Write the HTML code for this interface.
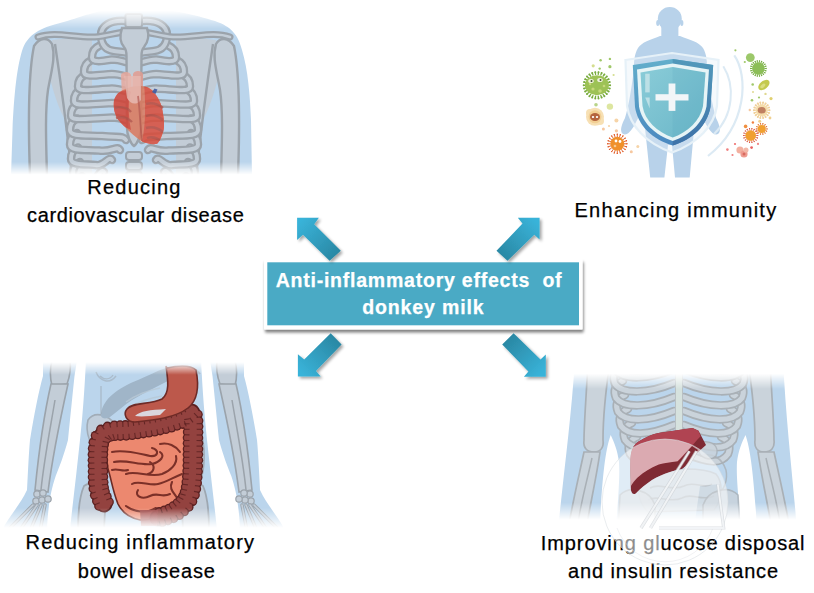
<!DOCTYPE html>
<html><head><meta charset="utf-8">
<style>
html,body{margin:0;padding:0;background:#fff;width:814px;height:593px;overflow:hidden;position:relative;font-family:"Liberation Sans",sans-serif;}
.t{position:absolute;white-space:pre;color:#000;font-size:20px;line-height:20px;-webkit-text-stroke:0.25px #000;}
.b{position:absolute;white-space:pre;color:#fff;font-size:19.5px;font-weight:bold;line-height:20px;-webkit-text-stroke:0.25px #fff;}
svg{position:absolute;left:0;top:0;}
</style></head><body>
<svg width="814" height="593" viewBox="0 0 814 593">
<defs>
<linearGradient id="fadeV1" x1="0" y1="0" x2="0" y2="1">
<stop offset="0" stop-color="#000"/><stop offset="0.06" stop-color="#000"/><stop offset="0.16" stop-color="#fff"/><stop offset="0.9" stop-color="#fff"/><stop offset="0.97" stop-color="#000"/><stop offset="1" stop-color="#000"/>
</linearGradient>
<linearGradient id="fadeImm" x1="0" y1="0" x2="0" y2="1"><stop offset="0" stop-color="#fff"/><stop offset="0.9" stop-color="#fff"/><stop offset="1" stop-color="#000"/></linearGradient>
<mask id="mImm" maskUnits="userSpaceOnUse" x="560" y="0" width="254" height="190"><rect x="560" y="0" width="254" height="180" fill="url(#fadeImm)"/></mask>
<linearGradient id="fadeAbd" x1="0" y1="0" x2="0" y2="1"><stop offset="0" stop-color="#000"/><stop offset="0.04" stop-color="#000"/><stop offset="0.11" stop-color="#fff"/><stop offset="0.85" stop-color="#fff"/><stop offset="0.96" stop-color="#000"/><stop offset="1" stop-color="#000"/></linearGradient>
<mask id="mAbd" maskUnits="userSpaceOnUse" x="0" y="350" width="300" height="185"><rect x="0" y="355" width="300" height="180" fill="url(#fadeAbd)"/></mask>
<linearGradient id="fadeGlu" x1="0" y1="0" x2="0" y2="1"><stop offset="0" stop-color="#000"/><stop offset="0.08" stop-color="#000"/><stop offset="0.17" stop-color="#fff"/><stop offset="0.84" stop-color="#fff"/><stop offset="0.94" stop-color="#000"/><stop offset="1" stop-color="#000"/></linearGradient>
<mask id="mGlu" maskUnits="userSpaceOnUse" x="540" y="355" width="274" height="180"><rect x="540" y="360" width="274" height="170" fill="url(#fadeGlu)"/></mask>
<mask id="mChest" maskUnits="userSpaceOnUse" x="0" y="0" width="280" height="190"><rect x="0" y="0" width="280" height="180" fill="url(#fadeV1)"/></mask>

<linearGradient id="ag" x1="0" y1="0" x2="1" y2="1">
<stop offset="0" stop-color="#3AB4DA"/><stop offset="1" stop-color="#2886A2"/>
</linearGradient>
<filter id="sh2" x="-10%" y="-20%" width="120%" height="150%"><feGaussianBlur in="SourceAlpha" stdDeviation="1.6"/><feOffset dx="1" dy="2.6"/><feComponentTransfer><feFuncA type="linear" slope="0.5"/></feComponentTransfer><feMerge><feMergeNode/><feMergeNode in="SourceGraphic"/></feMerge></filter>
<filter id="sh" x="-30%" y="-30%" width="160%" height="160%">
<feGaussianBlur in="SourceAlpha" stdDeviation="1.7"/><feOffset dx="1.8" dy="2.4"/>
<feComponentTransfer><feFuncA type="linear" slope="0.36"/></feComponentTransfer>
<feMerge><feMergeNode/><feMergeNode in="SourceGraphic"/></feMerge>
</filter>
</defs>
<g mask="url(#mChest)"><path d="M11,176 L12.5,130 C14,95 17,65 23,48 C29,34 40,28 60,23 C80,18 95,9 134,7 C173,9 195,15 215,21 C232,27 238,35 242,50 C248,70 250,95 251,120 L252,176 Z" fill="#BBD5EC"/><path d="M52,40 C60,80 66,130 72,176 L92,176 L92,36 Z" fill="#C3CDD7"/><path d="M50,40 L56,44 C60,70 62,95 64,118 C55,100 50,80 46,60 Z" fill="#C3CDD7"/><path d="M55,44 C62,90 67,130 72,176" fill="none" stroke="#9BA3AB" stroke-width="2.4"/><path d="M34,46 C29,70 28,120 30,176 L47,176 C46,140 45,110 48,90 C51,72 56,58 52,44 C48,37 40,37 34,46 Z" fill="#C3CDD7" stroke="#9BA3AB" stroke-width="2.4"/><path d="M216,40 C208,80 202,130 196,176 L176,176 L176,36 Z" fill="#C3CDD7"/><path d="M218,40 L212,44 C208,70 206,95 204,118 C213,100 218,80 222,60 Z" fill="#C3CDD7"/><path d="M213,44 C206,90 201,130 196,176" fill="none" stroke="#9BA3AB" stroke-width="2.4"/><path d="M234,46 C239,70 240,120 238,176 L221,176 C222,140 223,110 220,90 C217,72 212,58 216,44 C220,37 228,37 234,46 Z" fill="#C3CDD7" stroke="#9BA3AB" stroke-width="2.4"/><path d="M100,20 L168,20 L174,176 L94,176 Z" fill="#BBD5EC"/><path d="M82,176.5 C76,179 75,184 75,188 C75,195 91,193 89.5,194 C88,196 93,179 96,184" fill="none" stroke="#9BA3AB" stroke-width="8.5" stroke-linecap="round" stroke-linejoin="round"/><path d="M82,176.5 C76,179 75,184 75,188 C75,195 91,193 89.5,194 C88,196 93,179 96,184" fill="none" stroke="#C3CDD7" stroke-width="3.9000000000000004" stroke-linecap="round" stroke-linejoin="round"/><path d="M186,176.5 C192,179 193,184 193,188 C193,195 177,193 178.5,194 C180,196 175,179 172,184" fill="none" stroke="#9BA3AB" stroke-width="8.5" stroke-linecap="round" stroke-linejoin="round"/><path d="M186,176.5 C192,179 193,184 193,188 C193,195 177,193 178.5,194 C180,196 175,179 172,184" fill="none" stroke="#C3CDD7" stroke-width="3.9000000000000004" stroke-linecap="round" stroke-linejoin="round"/><path d="M80,162.0 C74,164.5 73,169.5 73,173.5 C73,180.5 89,178.5 92.5,179.5 C96,181.5 101,167 104,172" fill="none" stroke="#9BA3AB" stroke-width="8.5" stroke-linecap="round" stroke-linejoin="round"/><path d="M80,162.0 C74,164.5 73,169.5 73,173.5 C73,180.5 89,178.5 92.5,179.5 C96,181.5 101,167 104,172" fill="none" stroke="#C3CDD7" stroke-width="3.9000000000000004" stroke-linecap="round" stroke-linejoin="round"/><path d="M188,162.0 C194,164.5 195,169.5 195,173.5 C195,180.5 179,178.5 175.5,179.5 C172,181.5 167,167 164,172" fill="none" stroke="#9BA3AB" stroke-width="8.5" stroke-linecap="round" stroke-linejoin="round"/><path d="M188,162.0 C194,164.5 195,169.5 195,173.5 C195,180.5 179,178.5 175.5,179.5 C172,181.5 167,167 164,172" fill="none" stroke="#C3CDD7" stroke-width="3.9000000000000004" stroke-linecap="round" stroke-linejoin="round"/><path d="M78,147.5 C72,150 71,155 71,159 C71,166 87,164 95.5,165 C104,167 109,155 112,160" fill="none" stroke="#9BA3AB" stroke-width="8.5" stroke-linecap="round" stroke-linejoin="round"/><path d="M78,147.5 C72,150 71,155 71,159 C71,166 87,164 95.5,165 C104,167 109,155 112,160" fill="none" stroke="#C3CDD7" stroke-width="3.9000000000000004" stroke-linecap="round" stroke-linejoin="round"/><path d="M190,147.5 C196,150 197,155 197,159 C197,166 181,164 172.5,165 C164,167 159,155 156,160" fill="none" stroke="#9BA3AB" stroke-width="8.5" stroke-linecap="round" stroke-linejoin="round"/><path d="M190,147.5 C196,150 197,155 197,159 C197,166 181,164 172.5,165 C164,167 159,155 156,160" fill="none" stroke="#C3CDD7" stroke-width="3.9000000000000004" stroke-linecap="round" stroke-linejoin="round"/><path d="M77,133.0 C71,135.5 70,140.5 70,144.5 C70,151.5 86,149.5 99.0,150.5 C112,152.5 117,145 120,150" fill="none" stroke="#9BA3AB" stroke-width="8.5" stroke-linecap="round" stroke-linejoin="round"/><path d="M77,133.0 C71,135.5 70,140.5 70,144.5 C70,151.5 86,149.5 99.0,150.5 C112,152.5 117,145 120,150" fill="none" stroke="#C3CDD7" stroke-width="3.9000000000000004" stroke-linecap="round" stroke-linejoin="round"/><path d="M191,133.0 C197,135.5 198,140.5 198,144.5 C198,151.5 182,149.5 169.0,150.5 C156,152.5 151,145 148,150" fill="none" stroke="#9BA3AB" stroke-width="8.5" stroke-linecap="round" stroke-linejoin="round"/><path d="M191,133.0 C197,135.5 198,140.5 198,144.5 C198,151.5 182,149.5 169.0,150.5 C156,152.5 151,145 148,150" fill="none" stroke="#C3CDD7" stroke-width="3.9000000000000004" stroke-linecap="round" stroke-linejoin="round"/><path d="M77,118.5 C71,121 70,126 70,130 C70,137 86,135 102.0,136 C118,138 123,135 126,140" fill="none" stroke="#9BA3AB" stroke-width="8.5" stroke-linecap="round" stroke-linejoin="round"/><path d="M77,118.5 C71,121 70,126 70,130 C70,137 86,135 102.0,136 C118,138 123,135 126,140" fill="none" stroke="#C3CDD7" stroke-width="3.9000000000000004" stroke-linecap="round" stroke-linejoin="round"/><path d="M191,118.5 C197,121 198,126 198,130 C198,137 182,135 166.0,136 C150,138 145,135 142,140" fill="none" stroke="#9BA3AB" stroke-width="8.5" stroke-linecap="round" stroke-linejoin="round"/><path d="M191,118.5 C197,121 198,126 198,130 C198,137 182,135 166.0,136 C150,138 145,135 142,140" fill="none" stroke="#C3CDD7" stroke-width="3.9000000000000004" stroke-linecap="round" stroke-linejoin="round"/><path d="M78,104.0 C72,106.5 71,111.5 71,115.5 C71,121.5 85,118.5 112,117.5 C118,117.5 122,119.0 127,120.5" fill="none" stroke="#9BA3AB" stroke-width="8.5" stroke-linecap="round" stroke-linejoin="round"/><path d="M78,104.0 C72,106.5 71,111.5 71,115.5 C71,121.5 85,118.5 112,117.5 C118,117.5 122,119.0 127,120.5" fill="none" stroke="#C3CDD7" stroke-width="3.9000000000000004" stroke-linecap="round" stroke-linejoin="round"/><path d="M190,104.0 C196,106.5 197,111.5 197,115.5 C197,121.5 183,118.5 156,117.5 C150,117.5 146,119.0 141,120.5" fill="none" stroke="#9BA3AB" stroke-width="8.5" stroke-linecap="round" stroke-linejoin="round"/><path d="M190,104.0 C196,106.5 197,111.5 197,115.5 C197,121.5 183,118.5 156,117.5 C150,117.5 146,119.0 141,120.5" fill="none" stroke="#C3CDD7" stroke-width="3.9000000000000004" stroke-linecap="round" stroke-linejoin="round"/><path d="M81,89.5 C75,92 74,97 74,101 C74,107 88,104 112,103 C118,103 122,104.5 127,106" fill="none" stroke="#9BA3AB" stroke-width="8.5" stroke-linecap="round" stroke-linejoin="round"/><path d="M81,89.5 C75,92 74,97 74,101 C74,107 88,104 112,103 C118,103 122,104.5 127,106" fill="none" stroke="#C3CDD7" stroke-width="3.9000000000000004" stroke-linecap="round" stroke-linejoin="round"/><path d="M187,89.5 C193,92 194,97 194,101 C194,107 180,104 156,103 C150,103 146,104.5 141,106" fill="none" stroke="#9BA3AB" stroke-width="8.5" stroke-linecap="round" stroke-linejoin="round"/><path d="M187,89.5 C193,92 194,97 194,101 C194,107 180,104 156,103 C150,103 146,104.5 141,106" fill="none" stroke="#C3CDD7" stroke-width="3.9000000000000004" stroke-linecap="round" stroke-linejoin="round"/><path d="M85,75.0 C79,77.5 78,82.5 78,86.5 C78,92.5 92,89.5 112,88.5 C118,88.5 122,90.0 127,91.5" fill="none" stroke="#9BA3AB" stroke-width="8.5" stroke-linecap="round" stroke-linejoin="round"/><path d="M85,75.0 C79,77.5 78,82.5 78,86.5 C78,92.5 92,89.5 112,88.5 C118,88.5 122,90.0 127,91.5" fill="none" stroke="#C3CDD7" stroke-width="3.9000000000000004" stroke-linecap="round" stroke-linejoin="round"/><path d="M183,75.0 C189,77.5 190,82.5 190,86.5 C190,92.5 176,89.5 156,88.5 C150,88.5 146,90.0 141,91.5" fill="none" stroke="#9BA3AB" stroke-width="8.5" stroke-linecap="round" stroke-linejoin="round"/><path d="M183,75.0 C189,77.5 190,82.5 190,86.5 C190,92.5 176,89.5 156,88.5 C150,88.5 146,90.0 141,91.5" fill="none" stroke="#C3CDD7" stroke-width="3.9000000000000004" stroke-linecap="round" stroke-linejoin="round"/><path d="M91,60.5 C85,63 84,68 84,72 C84,78 98,75 112,74 C118,74 122,75.5 127,77" fill="none" stroke="#9BA3AB" stroke-width="8.5" stroke-linecap="round" stroke-linejoin="round"/><path d="M91,60.5 C85,63 84,68 84,72 C84,78 98,75 112,74 C118,74 122,75.5 127,77" fill="none" stroke="#C3CDD7" stroke-width="3.9000000000000004" stroke-linecap="round" stroke-linejoin="round"/><path d="M177,60.5 C183,63 184,68 184,72 C184,78 170,75 156,74 C150,74 146,75.5 141,77" fill="none" stroke="#9BA3AB" stroke-width="8.5" stroke-linecap="round" stroke-linejoin="round"/><path d="M177,60.5 C183,63 184,68 184,72 C184,78 170,75 156,74 C150,74 146,75.5 141,77" fill="none" stroke="#C3CDD7" stroke-width="3.9000000000000004" stroke-linecap="round" stroke-linejoin="round"/><path d="M99,46.0 C93,48.5 92,53.5 92,57.5 C92,63.5 106,60.5 112,59.5 C118,59.5 122,61.0 127,62.5" fill="none" stroke="#9BA3AB" stroke-width="8.5" stroke-linecap="round" stroke-linejoin="round"/><path d="M99,46.0 C93,48.5 92,53.5 92,57.5 C92,63.5 106,60.5 112,59.5 C118,59.5 122,61.0 127,62.5" fill="none" stroke="#C3CDD7" stroke-width="3.9000000000000004" stroke-linecap="round" stroke-linejoin="round"/><path d="M169,46.0 C175,48.5 176,53.5 176,57.5 C176,63.5 162,60.5 156,59.5 C150,59.5 146,61.0 141,62.5" fill="none" stroke="#9BA3AB" stroke-width="8.5" stroke-linecap="round" stroke-linejoin="round"/><path d="M169,46.0 C175,48.5 176,53.5 176,57.5 C176,63.5 162,60.5 156,59.5 C150,59.5 146,61.0 141,62.5" fill="none" stroke="#C3CDD7" stroke-width="3.9000000000000004" stroke-linecap="round" stroke-linejoin="round"/><path d="M126,21 C110,19.5 101,26 101,35 C101,45 106,50 114,51 C118,51.5 121,52 126,52.5" fill="none" stroke="#9BA3AB" stroke-width="8.5" stroke-linecap="round" stroke-linejoin="round"/><path d="M126,21 C110,19.5 101,26 101,35 C101,45 106,50 114,51 C118,51.5 121,52 126,52.5" fill="none" stroke="#C3CDD7" stroke-width="3.9000000000000004" stroke-linecap="round" stroke-linejoin="round"/><path d="M142,21 C158,19.5 167,26 167,35 C167,45 162,50 154,51 C150,51.5 147,52 142,52.5" fill="none" stroke="#9BA3AB" stroke-width="8.5" stroke-linecap="round" stroke-linejoin="round"/><path d="M142,21 C158,19.5 167,26 167,35 C167,45 162,50 154,51 C150,51.5 147,52 142,52.5" fill="none" stroke="#C3CDD7" stroke-width="3.9000000000000004" stroke-linecap="round" stroke-linejoin="round"/><path d="M38,37 C55,31 75,38 95,37 C108,36 118,32 127,32" fill="none" stroke="#9BA3AB" stroke-width="7" stroke-linecap="round" stroke-linejoin="round"/><path d="M38,37 C55,31 75,38 95,37 C108,36 118,32 127,32" fill="none" stroke="#C3CDD7" stroke-width="2.5999999999999996" stroke-linecap="round" stroke-linejoin="round"/><path d="M230,37 C213,31 193,38 173,37 C160,36 150,32 141,32" fill="none" stroke="#9BA3AB" stroke-width="7" stroke-linecap="round" stroke-linejoin="round"/><path d="M230,37 C213,31 193,38 173,37 C160,36 150,32 141,32" fill="none" stroke="#C3CDD7" stroke-width="2.5999999999999996" stroke-linecap="round" stroke-linejoin="round"/><rect x="125.4" y="14" width="16.6" height="13" rx="2" fill="#C3CDD7" stroke="#9BA3AB" stroke-width="2"/><path d="M122,28 L147,28 C149,34 149,41 144,47 C142,49 141.5,52 141.5,56 L141,128 C141,136 137,144 134,146 C131,144 127,136 127,128 L126.5,56 C126.5,52 126,49 124,47 C119,41 120,34 122,28 Z" fill="#C3CDD7" stroke="#9BA3AB" stroke-width="2.4"/><rect x="126" y="152" width="16" height="8" rx="3" fill="#C3CDD7" stroke="#9BA3AB" stroke-width="2"/><rect x="126" y="162" width="16" height="8" rx="3" fill="#C3CDD7" stroke="#9BA3AB" stroke-width="2"/><rect x="126" y="172" width="16" height="8" rx="3" fill="#C3CDD7" stroke="#9BA3AB" stroke-width="2"/><g opacity="0.84"><path d="M121,75 C122,71 130,71 131,75 L131,92 L122,96 Z" fill="#E8A89C"/><path d="M133,74 C134,70 142,70 143,74 L143,92 L133,94 Z" fill="#E29C90"/><path d="M118.3,93 C125,88 135,85 144.3,86.5 C148,87 150,88.5 152.5,90.6 C158,97 162,104 163.1,114.2 C164.5,122 164,128 163.7,129.6 C162,136 160,141 157.2,143.8 C152,145 146,143 141.9,141.4 C135,137 130,132 125.4,127.2 C120,122 117,119 115.9,115.4 C113.5,110 113.5,104 114.1,100 C115,97 116.5,95 118.3,93 Z" fill="#DC785C"/><path d="M144.3,86.5 C148,87 150,88.5 152.5,90.6 C158,97 162,104 163.1,114.2 C164.5,122 164,128 163.7,129.6 C162,136 160,141 157.2,143.8 C152,145 146,143 141.9,141.4 C145,130 146,110 144.3,86.5 Z" fill="#DA4A38"/><path d="M118.3,93 C122,90 128,89 131,92 C128,100 128,115 131,130 C129,129 127,128 125.4,127.2 C120,122 117,119 115.9,115.4 C113.5,110 113.5,104 114.1,100 C115,97 116.5,95 118.3,93 Z" fill="#D24234"/><path d="M124,76 L141,76 L141,100 C136,106 130,104 127,98 Z" fill="#EDB5AA" opacity="0.85"/><path d="M115,108 C122,106 128,108 131,112 M116,118 C123,116 128,118 132,122 M146,104 C152,102 158,104 163,108 M146,116 C152,114 158,116 163,120 M146,128 C152,126 158,128 163,132 M147,138 C152,136 156,138 160,140" fill="none" stroke="#B0453A" stroke-width="2.4" opacity="0.8"/><path d="M138,96 C140,110 140,125 142,141" fill="none" stroke="#B0453A" stroke-width="1.8" opacity="0.7"/><path d="M152,92 L154.5,88.5 L157.5,89.5 L155.5,94 Z" fill="#3A56A0"/></g></g><g><ellipse cx="669.8" cy="18.8" rx="12" ry="11.8" fill="#B8D2EA"/><ellipse cx="657.8" cy="23" rx="1.6" ry="3" fill="#B8D2EA"/><ellipse cx="681.8" cy="23" rx="1.6" ry="3" fill="#B8D2EA"/><path d="M661.3,24 L678.4,24 L678.4,38 L661.3,38 Z" fill="#B8D2EA"/><path d="M660,36 C650,40 642,42 638,48 C634,55 634,62 634,68 C632,85 629,105 625,118 C622,124 619,131 623,134 C627,136 631,131 634,126 C638,118 643,110 645,100 L645.2,130 L650.2,177.5 L664.4,177.5 L668,145 L672,145 L675,177.5 L689.7,177.5 L694,130 L696,100 C698,110 703,118 707,126 C710,131 714,136 718,134 C722,131 719,124 716,118 C712,105 709,85 707,68 C707,62 707,55 703,48 C699,42 690,40 680,36 Z" fill="#B8D2EA"/><path d="M625.5,60 L672,53 L718.5,60 L717,106 C714,126 698,143 672,152.5 C646,143 630,126 627,106 Z" fill="#E3EEF6" fill-opacity="0.35" stroke="#E6F1F8" stroke-width="2.2"/><path d="M734.3,55.4 C748,75 748,125 708,156" fill="none" stroke="#DCEAF4" stroke-width="2.2"/><path d="M723.3,66.3 C735,85 734,115 714,134" fill="none" stroke="#DCEAF4" stroke-width="2"/><defs><linearGradient id="sbl" x1="0" y1="0" x2="0" y2="1"><stop offset="0" stop-color="#62AECB"/><stop offset="1" stop-color="#4A88C0"/></linearGradient><linearGradient id="sbr" x1="0" y1="0" x2="0" y2="1"><stop offset="0" stop-color="#5299BB"/><stop offset="1" stop-color="#3E72A8"/></linearGradient><linearGradient id="shg" x1="0" y1="0" x2="1" y2="1"><stop offset="0" stop-color="#8ACCD8"/><stop offset="1" stop-color="#6AB6C8"/></linearGradient></defs><path d="M632.8,65 L672.7,59 L713.2,65 L710.5,107 C707,126 693,139 672.7,145.5 C652,139 638,126 635,107 Z" fill="url(#sbl)"/><path d="M672.7,59 L713.2,65 L710.5,107 C707,126 693,139 672.7,145.5 Z" fill="url(#sbr)"/><path d="M637,69.5 L672.7,63.5 L709,69.5 L706.5,106.5 C703,123 690,135 672.7,141 C655,135 642,123 639,106.5 Z" fill="#E6F4F6"/><path d="M640.5,72.5 L672.7,67 L705.5,72.5 L703,106 C700,121 688,132 672.7,137.5 C657,132 645,121 642.5,106 Z" fill="url(#shg)"/><path d="M672.7,67 L705.5,72.5 L703,106 C700,121 688,132 672.7,137.5 Z" fill="#4FA3BD" opacity="0.15"/><rect x="645.2" y="73.7" width="4.5" height="18.7" fill="#C2E2E8" opacity="0.9"/><path d="M645.2,97.5 L649.7,97.5 L649.7,108.6 Z" fill="#C2E2E8" opacity="0.9"/><rect x="655.5" y="94.2" width="33" height="6.3" fill="#F2F6F8"/><rect x="668.6" y="83.5" width="6.8" height="27.4" fill="#F2F6F8"/><line x1="607.9" y1="85.3" x2="610.1" y2="85.3" stroke="#79AC40" stroke-width="1.3" stroke-linecap="round"/><circle cx="610.1" cy="85.3" r="1.0" fill="#79AC40"/><line x1="607.6" y1="87.9" x2="609.7" y2="88.5" stroke="#79AC40" stroke-width="1.3" stroke-linecap="round"/><circle cx="609.7" cy="88.5" r="1.0" fill="#79AC40"/><line x1="606.6" y1="90.4" x2="608.6" y2="91.4" stroke="#79AC40" stroke-width="1.3" stroke-linecap="round"/><circle cx="608.6" cy="91.4" r="1.0" fill="#79AC40"/><line x1="605.1" y1="92.6" x2="606.8" y2="94.1" stroke="#79AC40" stroke-width="1.3" stroke-linecap="round"/><circle cx="606.8" cy="94.1" r="1.0" fill="#79AC40"/><line x1="603.1" y1="94.4" x2="604.4" y2="96.2" stroke="#79AC40" stroke-width="1.3" stroke-linecap="round"/><circle cx="604.4" cy="96.2" r="1.0" fill="#79AC40"/><line x1="600.8" y1="95.6" x2="601.6" y2="97.6" stroke="#79AC40" stroke-width="1.3" stroke-linecap="round"/><circle cx="601.6" cy="97.6" r="1.0" fill="#79AC40"/><line x1="598.2" y1="96.2" x2="598.5" y2="98.4" stroke="#79AC40" stroke-width="1.3" stroke-linecap="round"/><circle cx="598.5" cy="98.4" r="1.0" fill="#79AC40"/><line x1="595.6" y1="96.2" x2="595.3" y2="98.4" stroke="#79AC40" stroke-width="1.3" stroke-linecap="round"/><circle cx="595.3" cy="98.4" r="1.0" fill="#79AC40"/><line x1="593.0" y1="95.6" x2="592.2" y2="97.6" stroke="#79AC40" stroke-width="1.3" stroke-linecap="round"/><circle cx="592.2" cy="97.6" r="1.0" fill="#79AC40"/><line x1="590.7" y1="94.4" x2="589.4" y2="96.2" stroke="#79AC40" stroke-width="1.3" stroke-linecap="round"/><circle cx="589.4" cy="96.2" r="1.0" fill="#79AC40"/><line x1="588.7" y1="92.6" x2="587.0" y2="94.1" stroke="#79AC40" stroke-width="1.3" stroke-linecap="round"/><circle cx="587.0" cy="94.1" r="1.0" fill="#79AC40"/><line x1="587.2" y1="90.4" x2="585.2" y2="91.4" stroke="#79AC40" stroke-width="1.3" stroke-linecap="round"/><circle cx="585.2" cy="91.4" r="1.0" fill="#79AC40"/><line x1="586.2" y1="87.9" x2="584.1" y2="88.5" stroke="#79AC40" stroke-width="1.3" stroke-linecap="round"/><circle cx="584.1" cy="88.5" r="1.0" fill="#79AC40"/><line x1="585.9" y1="85.3" x2="583.7" y2="85.3" stroke="#79AC40" stroke-width="1.3" stroke-linecap="round"/><circle cx="583.7" cy="85.3" r="1.0" fill="#79AC40"/><line x1="586.2" y1="82.7" x2="584.1" y2="82.1" stroke="#79AC40" stroke-width="1.3" stroke-linecap="round"/><circle cx="584.1" cy="82.1" r="1.0" fill="#79AC40"/><line x1="587.2" y1="80.2" x2="585.2" y2="79.2" stroke="#79AC40" stroke-width="1.3" stroke-linecap="round"/><circle cx="585.2" cy="79.2" r="1.0" fill="#79AC40"/><line x1="588.7" y1="78.0" x2="587.0" y2="76.5" stroke="#79AC40" stroke-width="1.3" stroke-linecap="round"/><circle cx="587.0" cy="76.5" r="1.0" fill="#79AC40"/><line x1="590.7" y1="76.2" x2="589.4" y2="74.4" stroke="#79AC40" stroke-width="1.3" stroke-linecap="round"/><circle cx="589.4" cy="74.4" r="1.0" fill="#79AC40"/><line x1="593.0" y1="75.0" x2="592.2" y2="73.0" stroke="#79AC40" stroke-width="1.3" stroke-linecap="round"/><circle cx="592.2" cy="73.0" r="1.0" fill="#79AC40"/><line x1="595.6" y1="74.4" x2="595.3" y2="72.2" stroke="#79AC40" stroke-width="1.3" stroke-linecap="round"/><circle cx="595.3" cy="72.2" r="1.0" fill="#79AC40"/><line x1="598.2" y1="74.4" x2="598.5" y2="72.2" stroke="#79AC40" stroke-width="1.3" stroke-linecap="round"/><circle cx="598.5" cy="72.2" r="1.0" fill="#79AC40"/><line x1="600.8" y1="75.0" x2="601.6" y2="73.0" stroke="#79AC40" stroke-width="1.3" stroke-linecap="round"/><circle cx="601.6" cy="73.0" r="1.0" fill="#79AC40"/><line x1="603.1" y1="76.2" x2="604.4" y2="74.4" stroke="#79AC40" stroke-width="1.3" stroke-linecap="round"/><circle cx="604.4" cy="74.4" r="1.0" fill="#79AC40"/><line x1="605.1" y1="78.0" x2="606.8" y2="76.5" stroke="#79AC40" stroke-width="1.3" stroke-linecap="round"/><circle cx="606.8" cy="76.5" r="1.0" fill="#79AC40"/><line x1="606.6" y1="80.2" x2="608.6" y2="79.2" stroke="#79AC40" stroke-width="1.3" stroke-linecap="round"/><circle cx="608.6" cy="79.2" r="1.0" fill="#79AC40"/><line x1="607.6" y1="82.7" x2="609.7" y2="82.1" stroke="#79AC40" stroke-width="1.3" stroke-linecap="round"/><circle cx="609.7" cy="82.1" r="1.0" fill="#79AC40"/><ellipse cx="596.9" cy="85.3" rx="12" ry="10" fill="#9DC256"/><circle cx="593" cy="89" r="1.6" fill="#C5D77A"/><circle cx="600" cy="91" r="1.8" fill="#C5D77A"/><circle cx="604" cy="86" r="1.3" fill="#C5D77A"/><circle cx="590" cy="84" r="1.2" fill="#C5D77A"/><ellipse cx="591" cy="81" rx="2.8" ry="2" fill="#EEF2DC"/><ellipse cx="600" cy="80" rx="2.8" ry="2" fill="#EEF2DC"/><circle cx="591.5" cy="81" r="1" fill="#4A5A30"/><circle cx="600.5" cy="80" r="1" fill="#4A5A30"/><circle cx="595" cy="116.8" r="9" fill="#F7E0B4"/><circle cx="590" cy="113" r="4" fill="#F7E0B4"/><circle cx="600" cy="121" r="4" fill="#F7E0B4"/><circle cx="595" cy="116.8" r="6.5" fill="#F2CF94"/><ellipse cx="595" cy="117" rx="5" ry="4" fill="#B4643E"/><ellipse cx="593" cy="117" rx="1.2" ry="0.9" fill="#fff"/><ellipse cx="597" cy="117" rx="1.2" ry="0.9" fill="#fff"/><line x1="624.3" y1="143.8" x2="626.9" y2="143.8" stroke="#E05A26" stroke-width="0.9" stroke-linecap="round"/><circle cx="626.9" cy="143.8" r="0.7" fill="#E05A26"/><line x1="624.0" y1="146.0" x2="626.4" y2="146.8" stroke="#E05A26" stroke-width="0.9" stroke-linecap="round"/><circle cx="626.4" cy="146.8" r="0.7" fill="#E05A26"/><line x1="623.0" y1="147.9" x2="625.1" y2="149.4" stroke="#E05A26" stroke-width="0.9" stroke-linecap="round"/><circle cx="625.1" cy="149.4" r="0.7" fill="#E05A26"/><line x1="621.4" y1="149.5" x2="622.9" y2="151.6" stroke="#E05A26" stroke-width="0.9" stroke-linecap="round"/><circle cx="622.9" cy="151.6" r="0.7" fill="#E05A26"/><line x1="619.5" y1="150.5" x2="620.3" y2="152.9" stroke="#E05A26" stroke-width="0.9" stroke-linecap="round"/><circle cx="620.3" cy="152.9" r="0.7" fill="#E05A26"/><line x1="617.3" y1="150.8" x2="617.3" y2="153.4" stroke="#E05A26" stroke-width="0.9" stroke-linecap="round"/><circle cx="617.3" cy="153.4" r="0.7" fill="#E05A26"/><line x1="615.1" y1="150.5" x2="614.3" y2="152.9" stroke="#E05A26" stroke-width="0.9" stroke-linecap="round"/><circle cx="614.3" cy="152.9" r="0.7" fill="#E05A26"/><line x1="613.2" y1="149.5" x2="611.7" y2="151.6" stroke="#E05A26" stroke-width="0.9" stroke-linecap="round"/><circle cx="611.7" cy="151.6" r="0.7" fill="#E05A26"/><line x1="611.6" y1="147.9" x2="609.5" y2="149.4" stroke="#E05A26" stroke-width="0.9" stroke-linecap="round"/><circle cx="609.5" cy="149.4" r="0.7" fill="#E05A26"/><line x1="610.6" y1="146.0" x2="608.2" y2="146.8" stroke="#E05A26" stroke-width="0.9" stroke-linecap="round"/><circle cx="608.2" cy="146.8" r="0.7" fill="#E05A26"/><line x1="610.3" y1="143.8" x2="607.7" y2="143.8" stroke="#E05A26" stroke-width="0.9" stroke-linecap="round"/><circle cx="607.7" cy="143.8" r="0.7" fill="#E05A26"/><line x1="610.6" y1="141.6" x2="608.2" y2="140.8" stroke="#E05A26" stroke-width="0.9" stroke-linecap="round"/><circle cx="608.2" cy="140.8" r="0.7" fill="#E05A26"/><line x1="611.6" y1="139.7" x2="609.5" y2="138.2" stroke="#E05A26" stroke-width="0.9" stroke-linecap="round"/><circle cx="609.5" cy="138.2" r="0.7" fill="#E05A26"/><line x1="613.2" y1="138.1" x2="611.7" y2="136.0" stroke="#E05A26" stroke-width="0.9" stroke-linecap="round"/><circle cx="611.7" cy="136.0" r="0.7" fill="#E05A26"/><line x1="615.1" y1="137.1" x2="614.3" y2="134.7" stroke="#E05A26" stroke-width="0.9" stroke-linecap="round"/><circle cx="614.3" cy="134.7" r="0.7" fill="#E05A26"/><line x1="617.3" y1="136.8" x2="617.3" y2="134.2" stroke="#E05A26" stroke-width="0.9" stroke-linecap="round"/><circle cx="617.3" cy="134.2" r="0.7" fill="#E05A26"/><line x1="619.5" y1="137.1" x2="620.3" y2="134.7" stroke="#E05A26" stroke-width="0.9" stroke-linecap="round"/><circle cx="620.3" cy="134.7" r="0.7" fill="#E05A26"/><line x1="621.4" y1="138.1" x2="622.9" y2="136.0" stroke="#E05A26" stroke-width="0.9" stroke-linecap="round"/><circle cx="622.9" cy="136.0" r="0.7" fill="#E05A26"/><line x1="623.0" y1="139.7" x2="625.1" y2="138.2" stroke="#E05A26" stroke-width="0.9" stroke-linecap="round"/><circle cx="625.1" cy="138.2" r="0.7" fill="#E05A26"/><line x1="624.0" y1="141.6" x2="626.4" y2="140.8" stroke="#E05A26" stroke-width="0.9" stroke-linecap="round"/><circle cx="626.4" cy="140.8" r="0.7" fill="#E05A26"/><circle cx="617.3" cy="143.8" r="7" fill="#F0902A"/><circle cx="616" cy="141" r="1.4" fill="#fff"/><circle cx="620" cy="141.5" r="1.4" fill="#fff"/><circle cx="615" cy="146" r="1.3" fill="#F5C890"/><circle cx="600.6" cy="60.2" r="1.2" fill="#A0C86A"/><circle cx="609.9" cy="58.9" r="1.2" fill="#A0C86A"/><circle cx="593.2" cy="65.8" r="1.6" fill="#D5DE90"/><circle cx="599.7" cy="68.6" r="1.2" fill="#A0C86A"/><circle cx="609.9" cy="66.7" r="1.6" fill="#A0C86A"/><circle cx="613.6" cy="75" r="1.1" fill="#D5DE90"/><circle cx="596" cy="104.8" r="1.8" fill="#B8D488"/><circle cx="609.9" cy="106.6" r="3.2" fill="#DDE6A0"/><circle cx="616.4" cy="120.6" r="2" fill="#F6D4A8"/><circle cx="609" cy="126" r="1.1" fill="#F6D4A8"/><circle cx="603.4" cy="128.9" r="1.5" fill="#F6C8A0"/><circle cx="616.4" cy="130.8" r="1.6" fill="#F6C8A0"/><circle cx="637.8" cy="146.5" r="1.5" fill="#F6D4A8"/><circle cx="631.3" cy="151.7" r="1.5" fill="#F6C8A0"/><circle cx="750.3" cy="57.6" r="4.4" fill="#9CC86A"/><line x1="764.6" y1="68.5" x2="766.1" y2="68.5" stroke="#77AE44" stroke-width="0.9" stroke-linecap="round"/><circle cx="766.1" cy="68.5" r="0.7" fill="#77AE44"/><line x1="764.3" y1="70.2" x2="765.8" y2="70.7" stroke="#77AE44" stroke-width="0.9" stroke-linecap="round"/><circle cx="765.8" cy="70.7" r="0.7" fill="#77AE44"/><line x1="763.6" y1="71.9" x2="764.9" y2="72.7" stroke="#77AE44" stroke-width="0.9" stroke-linecap="round"/><circle cx="764.9" cy="72.7" r="0.7" fill="#77AE44"/><line x1="762.5" y1="73.2" x2="763.4" y2="74.3" stroke="#77AE44" stroke-width="0.9" stroke-linecap="round"/><circle cx="763.4" cy="74.3" r="0.7" fill="#77AE44"/><line x1="761.0" y1="74.1" x2="761.6" y2="75.5" stroke="#77AE44" stroke-width="0.9" stroke-linecap="round"/><circle cx="761.6" cy="75.5" r="0.7" fill="#77AE44"/><line x1="759.3" y1="74.6" x2="759.5" y2="76.1" stroke="#77AE44" stroke-width="0.9" stroke-linecap="round"/><circle cx="759.5" cy="76.1" r="0.7" fill="#77AE44"/><line x1="757.5" y1="74.6" x2="757.3" y2="76.1" stroke="#77AE44" stroke-width="0.9" stroke-linecap="round"/><circle cx="757.3" cy="76.1" r="0.7" fill="#77AE44"/><line x1="755.8" y1="74.1" x2="755.2" y2="75.5" stroke="#77AE44" stroke-width="0.9" stroke-linecap="round"/><circle cx="755.2" cy="75.5" r="0.7" fill="#77AE44"/><line x1="754.3" y1="73.2" x2="753.4" y2="74.3" stroke="#77AE44" stroke-width="0.9" stroke-linecap="round"/><circle cx="753.4" cy="74.3" r="0.7" fill="#77AE44"/><line x1="753.2" y1="71.9" x2="751.9" y2="72.7" stroke="#77AE44" stroke-width="0.9" stroke-linecap="round"/><circle cx="751.9" cy="72.7" r="0.7" fill="#77AE44"/><line x1="752.5" y1="70.2" x2="751.0" y2="70.7" stroke="#77AE44" stroke-width="0.9" stroke-linecap="round"/><circle cx="751.0" cy="70.7" r="0.7" fill="#77AE44"/><line x1="752.2" y1="68.5" x2="750.7" y2="68.5" stroke="#77AE44" stroke-width="0.9" stroke-linecap="round"/><circle cx="750.7" cy="68.5" r="0.7" fill="#77AE44"/><line x1="752.5" y1="66.8" x2="751.0" y2="66.3" stroke="#77AE44" stroke-width="0.9" stroke-linecap="round"/><circle cx="751.0" cy="66.3" r="0.7" fill="#77AE44"/><line x1="753.2" y1="65.1" x2="751.9" y2="64.3" stroke="#77AE44" stroke-width="0.9" stroke-linecap="round"/><circle cx="751.9" cy="64.3" r="0.7" fill="#77AE44"/><line x1="754.3" y1="63.8" x2="753.4" y2="62.7" stroke="#77AE44" stroke-width="0.9" stroke-linecap="round"/><circle cx="753.4" cy="62.7" r="0.7" fill="#77AE44"/><line x1="755.8" y1="62.9" x2="755.2" y2="61.5" stroke="#77AE44" stroke-width="0.9" stroke-linecap="round"/><circle cx="755.2" cy="61.5" r="0.7" fill="#77AE44"/><line x1="757.5" y1="62.4" x2="757.3" y2="60.9" stroke="#77AE44" stroke-width="0.9" stroke-linecap="round"/><circle cx="757.3" cy="60.9" r="0.7" fill="#77AE44"/><line x1="759.3" y1="62.4" x2="759.5" y2="60.9" stroke="#77AE44" stroke-width="0.9" stroke-linecap="round"/><circle cx="759.5" cy="60.9" r="0.7" fill="#77AE44"/><line x1="761.0" y1="62.9" x2="761.6" y2="61.5" stroke="#77AE44" stroke-width="0.9" stroke-linecap="round"/><circle cx="761.6" cy="61.5" r="0.7" fill="#77AE44"/><line x1="762.5" y1="63.8" x2="763.4" y2="62.7" stroke="#77AE44" stroke-width="0.9" stroke-linecap="round"/><circle cx="763.4" cy="62.7" r="0.7" fill="#77AE44"/><line x1="763.6" y1="65.1" x2="764.9" y2="64.3" stroke="#77AE44" stroke-width="0.9" stroke-linecap="round"/><circle cx="764.9" cy="64.3" r="0.7" fill="#77AE44"/><line x1="764.3" y1="66.8" x2="765.8" y2="66.3" stroke="#77AE44" stroke-width="0.9" stroke-linecap="round"/><circle cx="765.8" cy="66.3" r="0.7" fill="#77AE44"/><circle cx="758.4" cy="68.5" r="6.2" fill="#8CBE58"/><ellipse cx="763.9" cy="85" rx="6.5" ry="4" transform="rotate(-40 763.9 85)" fill="#C4C94E"/><ellipse cx="762.5" cy="85" rx="3" ry="1.6" transform="rotate(-40 763.9 85)" fill="#DADD80"/><line x1="767.7" y1="110.2" x2="769.5" y2="110.2" stroke="#F0D09A" stroke-width="1.2" stroke-linecap="round"/><circle cx="769.5" cy="110.2" r="1.0" fill="#F0D09A"/><line x1="767.3" y1="112.3" x2="769.0" y2="112.9" stroke="#F0D09A" stroke-width="1.2" stroke-linecap="round"/><circle cx="769.0" cy="112.9" r="1.0" fill="#F0D09A"/><line x1="766.3" y1="114.1" x2="767.7" y2="115.2" stroke="#F0D09A" stroke-width="1.2" stroke-linecap="round"/><circle cx="767.7" cy="115.2" r="1.0" fill="#F0D09A"/><line x1="764.7" y1="115.4" x2="765.6" y2="117.0" stroke="#F0D09A" stroke-width="1.2" stroke-linecap="round"/><circle cx="765.6" cy="117.0" r="1.0" fill="#F0D09A"/><line x1="762.7" y1="116.1" x2="763.1" y2="117.9" stroke="#F0D09A" stroke-width="1.2" stroke-linecap="round"/><circle cx="763.1" cy="117.9" r="1.0" fill="#F0D09A"/><line x1="760.7" y1="116.1" x2="760.3" y2="117.9" stroke="#F0D09A" stroke-width="1.2" stroke-linecap="round"/><circle cx="760.3" cy="117.9" r="1.0" fill="#F0D09A"/><line x1="758.7" y1="115.4" x2="757.8" y2="117.0" stroke="#F0D09A" stroke-width="1.2" stroke-linecap="round"/><circle cx="757.8" cy="117.0" r="1.0" fill="#F0D09A"/><line x1="757.1" y1="114.1" x2="755.7" y2="115.2" stroke="#F0D09A" stroke-width="1.2" stroke-linecap="round"/><circle cx="755.7" cy="115.2" r="1.0" fill="#F0D09A"/><line x1="756.1" y1="112.3" x2="754.4" y2="112.9" stroke="#F0D09A" stroke-width="1.2" stroke-linecap="round"/><circle cx="754.4" cy="112.9" r="1.0" fill="#F0D09A"/><line x1="755.7" y1="110.2" x2="753.9" y2="110.2" stroke="#F0D09A" stroke-width="1.2" stroke-linecap="round"/><circle cx="753.9" cy="110.2" r="1.0" fill="#F0D09A"/><line x1="756.1" y1="108.1" x2="754.4" y2="107.5" stroke="#F0D09A" stroke-width="1.2" stroke-linecap="round"/><circle cx="754.4" cy="107.5" r="1.0" fill="#F0D09A"/><line x1="757.1" y1="106.3" x2="755.7" y2="105.2" stroke="#F0D09A" stroke-width="1.2" stroke-linecap="round"/><circle cx="755.7" cy="105.2" r="1.0" fill="#F0D09A"/><line x1="758.7" y1="105.0" x2="757.8" y2="103.4" stroke="#F0D09A" stroke-width="1.2" stroke-linecap="round"/><circle cx="757.8" cy="103.4" r="1.0" fill="#F0D09A"/><line x1="760.7" y1="104.3" x2="760.3" y2="102.5" stroke="#F0D09A" stroke-width="1.2" stroke-linecap="round"/><circle cx="760.3" cy="102.5" r="1.0" fill="#F0D09A"/><line x1="762.7" y1="104.3" x2="763.1" y2="102.5" stroke="#F0D09A" stroke-width="1.2" stroke-linecap="round"/><circle cx="763.1" cy="102.5" r="1.0" fill="#F0D09A"/><line x1="764.7" y1="105.0" x2="765.6" y2="103.4" stroke="#F0D09A" stroke-width="1.2" stroke-linecap="round"/><circle cx="765.6" cy="103.4" r="1.0" fill="#F0D09A"/><line x1="766.3" y1="106.3" x2="767.7" y2="105.2" stroke="#F0D09A" stroke-width="1.2" stroke-linecap="round"/><circle cx="767.7" cy="105.2" r="1.0" fill="#F0D09A"/><line x1="767.3" y1="108.1" x2="769.0" y2="107.5" stroke="#F0D09A" stroke-width="1.2" stroke-linecap="round"/><circle cx="769.0" cy="107.5" r="1.0" fill="#F0D09A"/><circle cx="761.7" cy="110.2" r="6" fill="#F5DCAA"/><ellipse cx="761.7" cy="110.2" rx="4" ry="3.3" fill="#C08060"/><line x1="765.7" y1="128.9" x2="767.1" y2="128.9" stroke="#E07030" stroke-width="0.7" stroke-linecap="round"/><circle cx="767.1" cy="128.9" r="0.6" fill="#E07030"/><line x1="765.3" y1="130.6" x2="766.6" y2="131.2" stroke="#E07030" stroke-width="0.7" stroke-linecap="round"/><circle cx="766.6" cy="131.2" r="0.6" fill="#E07030"/><line x1="764.2" y1="132.0" x2="765.1" y2="133.1" stroke="#E07030" stroke-width="0.7" stroke-linecap="round"/><circle cx="765.1" cy="133.1" r="0.6" fill="#E07030"/><line x1="762.6" y1="132.8" x2="762.9" y2="134.2" stroke="#E07030" stroke-width="0.7" stroke-linecap="round"/><circle cx="762.9" cy="134.2" r="0.6" fill="#E07030"/><line x1="760.8" y1="132.8" x2="760.5" y2="134.2" stroke="#E07030" stroke-width="0.7" stroke-linecap="round"/><circle cx="760.5" cy="134.2" r="0.6" fill="#E07030"/><line x1="759.2" y1="132.0" x2="758.3" y2="133.1" stroke="#E07030" stroke-width="0.7" stroke-linecap="round"/><circle cx="758.3" cy="133.1" r="0.6" fill="#E07030"/><line x1="758.1" y1="130.6" x2="756.8" y2="131.2" stroke="#E07030" stroke-width="0.7" stroke-linecap="round"/><circle cx="756.8" cy="131.2" r="0.6" fill="#E07030"/><line x1="757.7" y1="128.9" x2="756.3" y2="128.9" stroke="#E07030" stroke-width="0.7" stroke-linecap="round"/><circle cx="756.3" cy="128.9" r="0.6" fill="#E07030"/><line x1="758.1" y1="127.2" x2="756.8" y2="126.6" stroke="#E07030" stroke-width="0.7" stroke-linecap="round"/><circle cx="756.8" cy="126.6" r="0.6" fill="#E07030"/><line x1="759.2" y1="125.8" x2="758.3" y2="124.7" stroke="#E07030" stroke-width="0.7" stroke-linecap="round"/><circle cx="758.3" cy="124.7" r="0.6" fill="#E07030"/><line x1="760.8" y1="125.0" x2="760.5" y2="123.6" stroke="#E07030" stroke-width="0.7" stroke-linecap="round"/><circle cx="760.5" cy="123.6" r="0.6" fill="#E07030"/><line x1="762.6" y1="125.0" x2="762.9" y2="123.6" stroke="#E07030" stroke-width="0.7" stroke-linecap="round"/><circle cx="762.9" cy="123.6" r="0.6" fill="#E07030"/><line x1="764.2" y1="125.8" x2="765.1" y2="124.7" stroke="#E07030" stroke-width="0.7" stroke-linecap="round"/><circle cx="765.1" cy="124.7" r="0.6" fill="#E07030"/><line x1="765.3" y1="127.2" x2="766.6" y2="126.6" stroke="#E07030" stroke-width="0.7" stroke-linecap="round"/><circle cx="766.6" cy="126.6" r="0.6" fill="#E07030"/><circle cx="761.7" cy="128.9" r="4" fill="#F0A030"/><line x1="756.0" y1="135.5" x2="757.8" y2="135.5" stroke="#D8503A" stroke-width="0.7" stroke-linecap="round"/><circle cx="757.8" cy="135.5" r="0.6" fill="#D8503A"/><line x1="755.7" y1="137.3" x2="757.4" y2="137.9" stroke="#D8503A" stroke-width="0.7" stroke-linecap="round"/><circle cx="757.4" cy="137.9" r="0.6" fill="#D8503A"/><line x1="754.8" y1="138.9" x2="756.1" y2="140.1" stroke="#D8503A" stroke-width="0.7" stroke-linecap="round"/><circle cx="756.1" cy="140.1" r="0.6" fill="#D8503A"/><line x1="753.4" y1="140.1" x2="754.2" y2="141.6" stroke="#D8503A" stroke-width="0.7" stroke-linecap="round"/><circle cx="754.2" cy="141.6" r="0.6" fill="#D8503A"/><line x1="751.6" y1="140.7" x2="751.9" y2="142.5" stroke="#D8503A" stroke-width="0.7" stroke-linecap="round"/><circle cx="751.9" cy="142.5" r="0.6" fill="#D8503A"/><line x1="749.8" y1="140.7" x2="749.5" y2="142.5" stroke="#D8503A" stroke-width="0.7" stroke-linecap="round"/><circle cx="749.5" cy="142.5" r="0.6" fill="#D8503A"/><line x1="748.1" y1="140.1" x2="747.2" y2="141.6" stroke="#D8503A" stroke-width="0.7" stroke-linecap="round"/><circle cx="747.2" cy="141.6" r="0.6" fill="#D8503A"/><line x1="746.6" y1="138.9" x2="745.3" y2="140.1" stroke="#D8503A" stroke-width="0.7" stroke-linecap="round"/><circle cx="745.3" cy="140.1" r="0.6" fill="#D8503A"/><line x1="745.7" y1="137.3" x2="744.0" y2="137.9" stroke="#D8503A" stroke-width="0.7" stroke-linecap="round"/><circle cx="744.0" cy="137.9" r="0.6" fill="#D8503A"/><line x1="745.4" y1="135.5" x2="743.6" y2="135.5" stroke="#D8503A" stroke-width="0.7" stroke-linecap="round"/><circle cx="743.6" cy="135.5" r="0.6" fill="#D8503A"/><line x1="745.7" y1="133.7" x2="744.0" y2="133.1" stroke="#D8503A" stroke-width="0.7" stroke-linecap="round"/><circle cx="744.0" cy="133.1" r="0.6" fill="#D8503A"/><line x1="746.6" y1="132.1" x2="745.3" y2="130.9" stroke="#D8503A" stroke-width="0.7" stroke-linecap="round"/><circle cx="745.3" cy="130.9" r="0.6" fill="#D8503A"/><line x1="748.1" y1="130.9" x2="747.2" y2="129.4" stroke="#D8503A" stroke-width="0.7" stroke-linecap="round"/><circle cx="747.2" cy="129.4" r="0.6" fill="#D8503A"/><line x1="749.8" y1="130.3" x2="749.5" y2="128.5" stroke="#D8503A" stroke-width="0.7" stroke-linecap="round"/><circle cx="749.5" cy="128.5" r="0.6" fill="#D8503A"/><line x1="751.6" y1="130.3" x2="751.9" y2="128.5" stroke="#D8503A" stroke-width="0.7" stroke-linecap="round"/><circle cx="751.9" cy="128.5" r="0.6" fill="#D8503A"/><line x1="753.4" y1="130.9" x2="754.2" y2="129.4" stroke="#D8503A" stroke-width="0.7" stroke-linecap="round"/><circle cx="754.2" cy="129.4" r="0.6" fill="#D8503A"/><line x1="754.8" y1="132.1" x2="756.1" y2="130.9" stroke="#D8503A" stroke-width="0.7" stroke-linecap="round"/><circle cx="756.1" cy="130.9" r="0.6" fill="#D8503A"/><line x1="755.7" y1="133.7" x2="757.4" y2="133.1" stroke="#D8503A" stroke-width="0.7" stroke-linecap="round"/><circle cx="757.4" cy="133.1" r="0.6" fill="#D8503A"/><circle cx="750.7" cy="135.5" r="5.3" fill="#F0A030"/><circle cx="740" cy="150" r="3.6" fill="#F2B0A0"/><circle cx="744" cy="154" r="3.6" fill="#EE9C90"/><circle cx="746" cy="150" r="2.5" fill="#F2B8A8"/><circle cx="744" cy="154" r="1.5" fill="#D86A60"/><circle cx="735.4" cy="50.3" r="1.1" fill="#A0C86A"/><circle cx="744.8" cy="62" r="1.1" fill="#A0C86A"/><circle cx="752.7" cy="84.5" r="1.3" fill="#A0C86A"/><circle cx="752" cy="100.3" r="1.3" fill="#A0C86A"/><circle cx="759" cy="97.5" r="1.1" fill="#A0C86A"/><circle cx="753" cy="92" r="1" fill="#E0D890"/><circle cx="765.5" cy="93.9" r="1.2" fill="#E0D890"/><circle cx="771" cy="98.6" r="1.6" fill="#E0D070"/><circle cx="749.8" cy="110" r="1.2" fill="#F6C8A0"/><circle cx="745.6" cy="126.4" r="1.8" fill="#F09040"/><circle cx="752.9" cy="122.5" r="1.2" fill="#F08040"/><circle cx="759.7" cy="121.2" r="1.5" fill="#F0D090"/><circle cx="770" cy="118" r="1.4" fill="#F0D090"/><circle cx="735" cy="144" r="1.1" fill="#F07070"/><circle cx="727.4" cy="149.6" r="1.3" fill="#F08080"/><circle cx="732.5" cy="155" r="1.1" fill="#F08080"/><circle cx="751.6" cy="147.6" r="1.4" fill="#E86060"/><circle cx="758" cy="143.9" r="1.1" fill="#F08080"/></g><g mask="url(#mAbd)"><path d="M43,360 L77,360 L74.5,376 C72,400 70,420 68,440 C64,455 59,468 55.7,476 C51,490 48,505 47,530 L2,530 C10,515 20,505 27,490 C28,470 29,450 30,440 C34,415 39,390 43,376 Z" fill="#BBD5EC"/><path d="M52,360 L70,360 C71,368 70,376 67,384 L52,386 C50,378 50,368 52,360 Z" fill="#C3CDD7" stroke="#9BA3AB" stroke-width="1.6"/><path d="M51,384 C45,410 39,450 35,490 L48,492 C52,460 60,420 68,384 Z" fill="#C3CDD7" stroke="#9BA3AB" stroke-width="1.6"/><path d="M55,400 C50,430 44,460 41,490" fill="none" stroke="#9BA3AB" stroke-width="1.5"/><circle cx="37" cy="494" r="3.2" fill="#C3CDD7" stroke="#9BA3AB" stroke-width="1.2"/><circle cx="43" cy="493" r="3.2" fill="#C3CDD7" stroke="#9BA3AB" stroke-width="1.2"/><circle cx="36" cy="501" r="3.2" fill="#C3CDD7" stroke="#9BA3AB" stroke-width="1.2"/><circle cx="42" cy="500" r="3.2" fill="#C3CDD7" stroke="#9BA3AB" stroke-width="1.2"/><circle cx="48" cy="499" r="3.2" fill="#C3CDD7" stroke="#9BA3AB" stroke-width="1.2"/><path d="M33,505 L8,530" stroke="#9BA3AB" stroke-width="3.4" stroke-linecap="round"/><path d="M33,505 L8,530" stroke="#C3CDD7" stroke-width="1.6" stroke-linecap="round"/><path d="M37,505 L20,530" stroke="#9BA3AB" stroke-width="3.4" stroke-linecap="round"/><path d="M37,505 L20,530" stroke="#C3CDD7" stroke-width="1.6" stroke-linecap="round"/><path d="M41,505 L30,531" stroke="#9BA3AB" stroke-width="3.4" stroke-linecap="round"/><path d="M41,505 L30,531" stroke="#C3CDD7" stroke-width="1.6" stroke-linecap="round"/><path d="M45,505 L40,531" stroke="#9BA3AB" stroke-width="3.4" stroke-linecap="round"/><path d="M45,505 L40,531" stroke="#C3CDD7" stroke-width="1.6" stroke-linecap="round"/><path d="M244.0,360 L210.0,360 L212.5,376 C215.0,400 217.0,420 219.0,440 C223.0,455 228.0,468 231.3,476 C236.0,490 239.0,505 240.0,530 L285.0,530 C277.0,515 267.0,505 260.0,490 C259.0,470 258.0,450 257.0,440 C253.0,415 248.0,390 244.0,376 Z" fill="#BBD5EC"/><path d="M235.0,360 L217.0,360 C216.0,368 217.0,376 220.0,384 L235.0,386 C237.0,378 237.0,368 235.0,360 Z" fill="#C3CDD7" stroke="#9BA3AB" stroke-width="1.6"/><path d="M236.0,384 C242.0,410 248.0,450 252.0,490 L239.0,492 C235.0,460 227.0,420 219.0,384 Z" fill="#C3CDD7" stroke="#9BA3AB" stroke-width="1.6"/><path d="M232.0,400 C237.0,430 243.0,460 246.0,490" fill="none" stroke="#9BA3AB" stroke-width="1.5"/><circle cx="250.0" cy="494" r="3.2" fill="#C3CDD7" stroke="#9BA3AB" stroke-width="1.2"/><circle cx="244.0" cy="493" r="3.2" fill="#C3CDD7" stroke="#9BA3AB" stroke-width="1.2"/><circle cx="251.0" cy="501" r="3.2" fill="#C3CDD7" stroke="#9BA3AB" stroke-width="1.2"/><circle cx="245.0" cy="500" r="3.2" fill="#C3CDD7" stroke="#9BA3AB" stroke-width="1.2"/><circle cx="239.0" cy="499" r="3.2" fill="#C3CDD7" stroke="#9BA3AB" stroke-width="1.2"/><path d="M254.0,505 L279.0,530" stroke="#9BA3AB" stroke-width="3.4" stroke-linecap="round"/><path d="M254.0,505 L279.0,530" stroke="#C3CDD7" stroke-width="1.6" stroke-linecap="round"/><path d="M250.0,505 L267.0,530" stroke="#9BA3AB" stroke-width="3.4" stroke-linecap="round"/><path d="M250.0,505 L267.0,530" stroke="#C3CDD7" stroke-width="1.6" stroke-linecap="round"/><path d="M246.0,505 L257.0,531" stroke="#9BA3AB" stroke-width="3.4" stroke-linecap="round"/><path d="M246.0,505 L257.0,531" stroke="#C3CDD7" stroke-width="1.6" stroke-linecap="round"/><path d="M242.0,505 L247.0,531" stroke="#9BA3AB" stroke-width="3.4" stroke-linecap="round"/><path d="M242.0,505 L247.0,531" stroke="#C3CDD7" stroke-width="1.6" stroke-linecap="round"/><path d="M86,360 L201,360 C203,400 205,420 207,440 C210,470 214,500 217,530 L70,530 C73,500 77,470 80,440 C82,420 84,400 86,360 Z" fill="#BBD5EC"/><path d="M84,486 C92,480 104,482 106,492 L104,530 L78,530 C78,510 80,495 84,486 Z" fill="#C3CDD7" stroke="#9BA3AB" stroke-width="1.8" opacity="0.9"/><path d="M203,486 C195,480 183,482 181,492 L183,530 L209,530 C209,510 207,495 203,486 Z" fill="#C3CDD7" stroke="#9BA3AB" stroke-width="1.8" opacity="0.9"/><path d="M88,420 C95,410 112,415 118,430 C120,445 110,452 100,450 C90,448 85,432 88,420 Z" fill="#C3CDD7" stroke="#9BA3AB" stroke-width="1.6" opacity="0.8"/><path d="M200,430 C206,445 205,470 200,482 C195,470 192,450 195,432 Z" fill="#C3CDD7" stroke="#9BA3AB" stroke-width="1.6" opacity="0.8"/><path d="M180,372 C188,366 196,368 200,374" fill="none" stroke="#9BA3AB" stroke-width="2" opacity="0.6"/><path d="M101,413 C104,398 118,388 138,380 C148,376 156,371 166,368 L170,380 C158,386 146,392 132,400 C124,405 118,411 110,417 C104,420 100,418 101,413 Z" fill="#A0B5C8"/><path d="M96,372 C100,382 110,384 116,376 M100,376 C104,380 110,380 113,375" fill="none" stroke="#9BA3AB" stroke-width="1.4" opacity="0.5"/><path d="M101,386 L101,414" fill="none" stroke="#9BA3AB" stroke-width="1.4" opacity="0.5"/><path d="M126,402 C134,396 148,390 160,388 M128,408 C138,402 150,398 162,396" fill="none" stroke="#B8C8D6" stroke-width="1.4" opacity="0.8"/><path d="M106,441 C130,437 160,431 186,424 C187,450 187,470 185,482 C182,495 176,503 168,508 C160,516 150,521 140,520 C130,518 122,512 118,504 C114,494 112,484 110,476 C106,465 106,452 108,444 Z" fill="#EC886F" stroke="#6B2A24" stroke-width="1.6"/><path d="M112,452 C125,449 140,454 150,456 C158,457 160,450 152,448" fill="none" stroke="#7B3028" stroke-width="2.1" stroke-linecap="round"/><path d="M114,462 C126,459 140,466 152,464 C160,462 166,456 160,452" fill="none" stroke="#7B3028" stroke-width="2.1" stroke-linecap="round"/><path d="M126,474 C136,470 150,478 162,474 C170,471 178,464 176,456" fill="none" stroke="#7B3028" stroke-width="2.1" stroke-linecap="round"/><path d="M112,470 C118,468 122,472 128,470" fill="none" stroke="#7B3028" stroke-width="2.1" stroke-linecap="round"/><path d="M160,444 C168,442 176,446 180,452" fill="none" stroke="#7B3028" stroke-width="2.1" stroke-linecap="round"/><path d="M132,484 C138,480 150,486 158,484 C166,482 172,478 182,474" fill="none" stroke="#7B3028" stroke-width="2.1" stroke-linecap="round"/><path d="M138,490 C134,496 142,500 150,496 C158,492 162,498 170,494" fill="none" stroke="#7B3028" stroke-width="2.1" stroke-linecap="round"/><path d="M126,506 C134,512 146,514 156,508" fill="none" stroke="#7B3028" stroke-width="2.1" stroke-linecap="round"/><path d="M150,462 C156,466 154,472 148,474" fill="none" stroke="#7B3028" stroke-width="2.1" stroke-linecap="round"/><path d="M172,482 C168,490 176,494 178,500" fill="none" stroke="#7B3028" stroke-width="2.1" stroke-linecap="round"/><circle cx="109.3" cy="501.9" r="4.6" fill="#5A2020"/><circle cx="98.7" cy="506.1" r="4.6" fill="#5A2020"/><circle cx="107.1" cy="496.6" r="4.6" fill="#5A2020"/><circle cx="96.6" cy="501.0" r="4.6" fill="#5A2020"/><circle cx="105.3" cy="491.8" r="4.6" fill="#5A2020"/><circle cx="94.5" cy="495.3" r="4.6" fill="#5A2020"/><circle cx="104.4" cy="487.4" r="4.6" fill="#5A2020"/><circle cx="93.1" cy="488.8" r="4.6" fill="#5A2020"/><circle cx="103.9" cy="482.3" r="4.6" fill="#5A2020"/><circle cx="92.5" cy="482.8" r="4.6" fill="#5A2020"/><circle cx="103.7" cy="476.8" r="4.6" fill="#5A2020"/><circle cx="92.3" cy="477.1" r="4.6" fill="#5A2020"/><circle cx="103.7" cy="471.3" r="4.6" fill="#5A2020"/><circle cx="92.3" cy="471.4" r="4.6" fill="#5A2020"/><circle cx="103.7" cy="465.7" r="4.6" fill="#5A2020"/><circle cx="92.3" cy="465.8" r="4.6" fill="#5A2020"/><circle cx="103.6" cy="460.1" r="4.6" fill="#5A2020"/><circle cx="92.2" cy="460.2" r="4.6" fill="#5A2020"/><circle cx="103.6" cy="454.6" r="4.6" fill="#5A2020"/><circle cx="92.2" cy="454.5" r="4.6" fill="#5A2020"/><circle cx="103.8" cy="449.4" r="4.6" fill="#5A2020"/><circle cx="92.4" cy="448.5" r="4.6" fill="#5A2020"/><circle cx="104.3" cy="444.5" r="4.6" fill="#5A2020"/><circle cx="93.1" cy="442.2" r="4.6" fill="#5A2020"/><circle cx="105.5" cy="440.5" r="4.6" fill="#5A2020"/><circle cx="95.3" cy="435.6" r="4.6" fill="#5A2020"/><circle cx="107.3" cy="438.6" r="4.6" fill="#5A2020"/><circle cx="100.7" cy="429.2" r="4.6" fill="#5A2020"/><circle cx="110.8" cy="437.1" r="4.6" fill="#5A2020"/><circle cx="107.4" cy="426.2" r="4.6" fill="#5A2020"/><circle cx="115.0" cy="436.5" r="4.6" fill="#5A2020"/><circle cx="114.3" cy="425.1" r="4.6" fill="#5A2020"/><circle cx="120.4" cy="436.3" r="4.6" fill="#5A2020"/><circle cx="120.1" cy="424.9" r="4.6" fill="#5A2020"/><circle cx="126.2" cy="436.1" r="4.6" fill="#5A2020"/><circle cx="125.4" cy="424.7" r="4.6" fill="#5A2020"/><circle cx="132.2" cy="435.5" r="4.6" fill="#5A2020"/><circle cx="130.6" cy="424.2" r="4.6" fill="#5A2020"/><circle cx="137.8" cy="434.7" r="4.6" fill="#5A2020"/><circle cx="136.1" cy="423.4" r="4.6" fill="#5A2020"/><circle cx="143.4" cy="433.8" r="4.6" fill="#5A2020"/><circle cx="141.6" cy="422.6" r="4.6" fill="#5A2020"/><circle cx="148.9" cy="432.9" r="4.6" fill="#5A2020"/><circle cx="147.1" cy="421.7" r="4.6" fill="#5A2020"/><circle cx="154.6" cy="431.9" r="4.6" fill="#5A2020"/><circle cx="152.5" cy="420.7" r="4.6" fill="#5A2020"/><circle cx="160.2" cy="430.8" r="4.6" fill="#5A2020"/><circle cx="157.8" cy="419.6" r="4.6" fill="#5A2020"/><circle cx="165.9" cy="429.4" r="4.6" fill="#5A2020"/><circle cx="163.0" cy="418.4" r="4.6" fill="#5A2020"/><circle cx="171.5" cy="427.9" r="4.6" fill="#5A2020"/><circle cx="168.3" cy="416.9" r="4.6" fill="#5A2020"/><circle cx="177.0" cy="426.1" r="4.6" fill="#5A2020"/><circle cx="173.4" cy="415.3" r="4.6" fill="#5A2020"/><circle cx="182.4" cy="424.3" r="4.6" fill="#5A2020"/><circle cx="178.6" cy="413.5" r="4.6" fill="#5A2020"/><circle cx="188.8" cy="421.2" r="4.6" fill="#5A2020"/><circle cx="182.3" cy="411.9" r="4.6" fill="#5A2020"/><circle cx="193.6" cy="416.7" r="4.6" fill="#5A2020"/><circle cx="185.5" cy="408.7" r="4.6" fill="#5A2020"/><circle cx="187.0" cy="416.3" r="4.6" fill="#5A2020"/><circle cx="198.2" cy="414.4" r="4.6" fill="#5A2020"/><circle cx="187.4" cy="421.0" r="4.6" fill="#5A2020"/><circle cx="198.8" cy="420.8" r="4.6" fill="#5A2020"/><circle cx="187.4" cy="426.5" r="4.6" fill="#5A2020"/><circle cx="198.8" cy="426.5" r="4.6" fill="#5A2020"/><circle cx="187.4" cy="432.1" r="4.6" fill="#5A2020"/><circle cx="198.8" cy="432.2" r="4.6" fill="#5A2020"/><circle cx="187.3" cy="437.7" r="4.6" fill="#5A2020"/><circle cx="198.7" cy="437.8" r="4.6" fill="#5A2020"/><circle cx="187.3" cy="443.3" r="4.6" fill="#5A2020"/><circle cx="198.7" cy="443.3" r="4.6" fill="#5A2020"/><circle cx="187.3" cy="448.9" r="4.6" fill="#5A2020"/><circle cx="198.7" cy="449.0" r="4.6" fill="#5A2020"/><circle cx="187.2" cy="454.5" r="4.6" fill="#5A2020"/><circle cx="198.6" cy="454.6" r="4.6" fill="#5A2020"/><circle cx="187.2" cy="460.0" r="4.6" fill="#5A2020"/><circle cx="198.6" cy="460.2" r="4.6" fill="#5A2020"/><circle cx="187.1" cy="465.6" r="4.6" fill="#5A2020"/><circle cx="198.5" cy="465.9" r="4.6" fill="#5A2020"/><circle cx="186.9" cy="471.1" r="4.6" fill="#5A2020"/><circle cx="198.3" cy="471.6" r="4.6" fill="#5A2020"/><circle cx="186.6" cy="476.4" r="4.6" fill="#5A2020"/><circle cx="197.9" cy="477.4" r="4.6" fill="#5A2020"/><circle cx="186.1" cy="481.9" r="4.6" fill="#5A2020"/><circle cx="197.4" cy="483.1" r="4.6" fill="#5A2020"/><circle cx="185.4" cy="487.0" r="4.6" fill="#5A2020"/><circle cx="196.6" cy="489.0" r="4.6" fill="#5A2020"/><circle cx="184.3" cy="492.0" r="4.6" fill="#5A2020"/><circle cx="195.3" cy="495.0" r="4.6" fill="#5A2020"/><circle cx="182.7" cy="496.0" r="4.6" fill="#5A2020"/><circle cx="192.7" cy="501.4" r="4.6" fill="#5A2020"/><circle cx="180.3" cy="499.7" r="4.6" fill="#5A2020"/><circle cx="189.0" cy="507.1" r="4.6" fill="#5A2020"/><circle cx="177.0" cy="502.9" r="4.6" fill="#5A2020"/><circle cx="184.3" cy="511.7" r="4.6" fill="#5A2020"/><circle cx="173.0" cy="505.9" r="4.6" fill="#5A2020"/><circle cx="179.3" cy="515.4" r="4.6" fill="#5A2020"/><circle cx="168.9" cy="508.3" r="4.6" fill="#5A2020"/><circle cx="173.7" cy="518.6" r="4.6" fill="#5A2020"/><circle cx="164.3" cy="510.0" r="4.6" fill="#5A2020"/><circle cx="167.9" cy="520.8" r="4.6" fill="#5A2020"/><circle cx="159.1" cy="511.7" r="4.6" fill="#5A2020"/><circle cx="162.4" cy="522.6" r="4.6" fill="#5A2020"/><path d="M104.0,504.0 L103.7,503.2 L103.3,502.2 L102.7,501.0 L102.2,499.7 L101.6,498.2 L101.0,496.7 L100.4,495.1 L99.8,493.4 L99.4,491.7 L99.0,490.0 L98.7,488.3 L98.5,486.5 L98.3,484.7 L98.2,482.8 L98.1,480.9 L98.1,478.9 L98.0,476.8 L98.0,474.6 L98.0,472.4 L98.0,470.0 L98.0,467.4 L97.9,464.6 L97.9,461.6 L97.9,458.5 L97.9,455.4 L97.9,452.3 L98.0,449.3 L98.3,446.6 L98.6,444.1 L99.0,442.0 L99.5,440.2 L100.1,438.7 L100.7,437.4 L101.4,436.3 L102.2,435.4 L103.1,434.6 L104.1,433.8 L105.2,433.2 L106.5,432.6 L108.0,432.0 L109.6,431.5 L111.4,431.1 L113.4,430.9 L115.5,430.8 L117.7,430.7 L120.0,430.6 L122.4,430.6 L124.9,430.5 L127.4,430.3 L130.0,430.0 L132.7,429.6 L135.6,429.2 L138.6,428.8 L141.8,428.3 L144.9,427.8 L148.1,427.3 L151.3,426.7 L154.3,426.2 L157.2,425.6 L160.0,425.0 L162.6,424.4 L165.3,423.7 L167.9,423.0 L170.4,422.2 L172.8,421.5 L175.1,420.8 L177.3,420.0 L179.4,419.3 L181.3,418.6 L183.0,418.0 L184.5,417.3 L185.8,416.4 L187.0,415.3 L188.0,414.3 L188.9,413.4 L189.6,412.6 L190.3,412.1 L190.9,411.9 L191.5,412.2 L192.0,413.0 L192.4,414.3 L192.7,416.1 L193.0,418.3 L193.1,420.9 L193.1,423.7 L193.1,426.7 L193.1,429.9 L193.1,433.3 L193.0,436.6 L193.0,440.0 L193.0,443.6 L193.0,447.5 L193.0,451.7 L192.9,456.0 L192.9,460.4 L192.8,464.8 L192.7,469.1 L192.5,473.1 L192.3,476.8 L192.0,480.0 L191.7,482.8 L191.4,485.4 L191.0,487.7 L190.7,489.8 L190.2,491.8 L189.8,493.5 L189.2,495.2 L188.6,496.8 L187.8,498.4 L187.0,500.0 L186.0,501.6 L185.0,503.0 L183.8,504.4 L182.5,505.7 L181.2,506.9 L179.8,508.0 L178.4,509.1 L176.9,510.1 L175.5,511.1 L174.0,512.0 L172.4,512.9 L170.7,513.7 L168.9,514.4 L167.0,515.1 L165.2,515.8 L163.4,516.3 L161.7,516.8 L160.2,517.3 L159.0,517.7 L158.0,518.0" fill="none" stroke="#5A2020" stroke-width="17" stroke-linejoin="round" stroke-linecap="round"/><circle cx="109.3" cy="501.9" r="3.3" fill="#93423F"/><circle cx="98.7" cy="506.1" r="3.3" fill="#93423F"/><circle cx="107.1" cy="496.6" r="3.3" fill="#93423F"/><circle cx="96.6" cy="501.0" r="3.3" fill="#93423F"/><circle cx="105.3" cy="491.8" r="3.3" fill="#93423F"/><circle cx="94.5" cy="495.3" r="3.3" fill="#93423F"/><circle cx="104.4" cy="487.4" r="3.3" fill="#93423F"/><circle cx="93.1" cy="488.8" r="3.3" fill="#93423F"/><circle cx="103.9" cy="482.3" r="3.3" fill="#93423F"/><circle cx="92.5" cy="482.8" r="3.3" fill="#93423F"/><circle cx="103.7" cy="476.8" r="3.3" fill="#93423F"/><circle cx="92.3" cy="477.1" r="3.3" fill="#93423F"/><circle cx="103.7" cy="471.3" r="3.3" fill="#93423F"/><circle cx="92.3" cy="471.4" r="3.3" fill="#93423F"/><circle cx="103.7" cy="465.7" r="3.3" fill="#93423F"/><circle cx="92.3" cy="465.8" r="3.3" fill="#93423F"/><circle cx="103.6" cy="460.1" r="3.3" fill="#93423F"/><circle cx="92.2" cy="460.2" r="3.3" fill="#93423F"/><circle cx="103.6" cy="454.6" r="3.3" fill="#93423F"/><circle cx="92.2" cy="454.5" r="3.3" fill="#93423F"/><circle cx="103.8" cy="449.4" r="3.3" fill="#93423F"/><circle cx="92.4" cy="448.5" r="3.3" fill="#93423F"/><circle cx="104.3" cy="444.5" r="3.3" fill="#93423F"/><circle cx="93.1" cy="442.2" r="3.3" fill="#93423F"/><circle cx="105.5" cy="440.5" r="3.3" fill="#93423F"/><circle cx="95.3" cy="435.6" r="3.3" fill="#93423F"/><circle cx="107.3" cy="438.6" r="3.3" fill="#93423F"/><circle cx="100.7" cy="429.2" r="3.3" fill="#93423F"/><circle cx="110.8" cy="437.1" r="3.3" fill="#93423F"/><circle cx="107.4" cy="426.2" r="3.3" fill="#93423F"/><circle cx="115.0" cy="436.5" r="3.3" fill="#93423F"/><circle cx="114.3" cy="425.1" r="3.3" fill="#93423F"/><circle cx="120.4" cy="436.3" r="3.3" fill="#93423F"/><circle cx="120.1" cy="424.9" r="3.3" fill="#93423F"/><circle cx="126.2" cy="436.1" r="3.3" fill="#93423F"/><circle cx="125.4" cy="424.7" r="3.3" fill="#93423F"/><circle cx="132.2" cy="435.5" r="3.3" fill="#93423F"/><circle cx="130.6" cy="424.2" r="3.3" fill="#93423F"/><circle cx="137.8" cy="434.7" r="3.3" fill="#93423F"/><circle cx="136.1" cy="423.4" r="3.3" fill="#93423F"/><circle cx="143.4" cy="433.8" r="3.3" fill="#93423F"/><circle cx="141.6" cy="422.6" r="3.3" fill="#93423F"/><circle cx="148.9" cy="432.9" r="3.3" fill="#93423F"/><circle cx="147.1" cy="421.7" r="3.3" fill="#93423F"/><circle cx="154.6" cy="431.9" r="3.3" fill="#93423F"/><circle cx="152.5" cy="420.7" r="3.3" fill="#93423F"/><circle cx="160.2" cy="430.8" r="3.3" fill="#93423F"/><circle cx="157.8" cy="419.6" r="3.3" fill="#93423F"/><circle cx="165.9" cy="429.4" r="3.3" fill="#93423F"/><circle cx="163.0" cy="418.4" r="3.3" fill="#93423F"/><circle cx="171.5" cy="427.9" r="3.3" fill="#93423F"/><circle cx="168.3" cy="416.9" r="3.3" fill="#93423F"/><circle cx="177.0" cy="426.1" r="3.3" fill="#93423F"/><circle cx="173.4" cy="415.3" r="3.3" fill="#93423F"/><circle cx="182.4" cy="424.3" r="3.3" fill="#93423F"/><circle cx="178.6" cy="413.5" r="3.3" fill="#93423F"/><circle cx="188.8" cy="421.2" r="3.3" fill="#93423F"/><circle cx="182.3" cy="411.9" r="3.3" fill="#93423F"/><circle cx="193.6" cy="416.7" r="3.3" fill="#93423F"/><circle cx="185.5" cy="408.7" r="3.3" fill="#93423F"/><circle cx="187.0" cy="416.3" r="3.3" fill="#93423F"/><circle cx="198.2" cy="414.4" r="3.3" fill="#93423F"/><circle cx="187.4" cy="421.0" r="3.3" fill="#93423F"/><circle cx="198.8" cy="420.8" r="3.3" fill="#93423F"/><circle cx="187.4" cy="426.5" r="3.3" fill="#93423F"/><circle cx="198.8" cy="426.5" r="3.3" fill="#93423F"/><circle cx="187.4" cy="432.1" r="3.3" fill="#93423F"/><circle cx="198.8" cy="432.2" r="3.3" fill="#93423F"/><circle cx="187.3" cy="437.7" r="3.3" fill="#93423F"/><circle cx="198.7" cy="437.8" r="3.3" fill="#93423F"/><circle cx="187.3" cy="443.3" r="3.3" fill="#93423F"/><circle cx="198.7" cy="443.3" r="3.3" fill="#93423F"/><circle cx="187.3" cy="448.9" r="3.3" fill="#93423F"/><circle cx="198.7" cy="449.0" r="3.3" fill="#93423F"/><circle cx="187.2" cy="454.5" r="3.3" fill="#93423F"/><circle cx="198.6" cy="454.6" r="3.3" fill="#93423F"/><circle cx="187.2" cy="460.0" r="3.3" fill="#93423F"/><circle cx="198.6" cy="460.2" r="3.3" fill="#93423F"/><circle cx="187.1" cy="465.6" r="3.3" fill="#93423F"/><circle cx="198.5" cy="465.9" r="3.3" fill="#93423F"/><circle cx="186.9" cy="471.1" r="3.3" fill="#93423F"/><circle cx="198.3" cy="471.6" r="3.3" fill="#93423F"/><circle cx="186.6" cy="476.4" r="3.3" fill="#93423F"/><circle cx="197.9" cy="477.4" r="3.3" fill="#93423F"/><circle cx="186.1" cy="481.9" r="3.3" fill="#93423F"/><circle cx="197.4" cy="483.1" r="3.3" fill="#93423F"/><circle cx="185.4" cy="487.0" r="3.3" fill="#93423F"/><circle cx="196.6" cy="489.0" r="3.3" fill="#93423F"/><circle cx="184.3" cy="492.0" r="3.3" fill="#93423F"/><circle cx="195.3" cy="495.0" r="3.3" fill="#93423F"/><circle cx="182.7" cy="496.0" r="3.3" fill="#93423F"/><circle cx="192.7" cy="501.4" r="3.3" fill="#93423F"/><circle cx="180.3" cy="499.7" r="3.3" fill="#93423F"/><circle cx="189.0" cy="507.1" r="3.3" fill="#93423F"/><circle cx="177.0" cy="502.9" r="3.3" fill="#93423F"/><circle cx="184.3" cy="511.7" r="3.3" fill="#93423F"/><circle cx="173.0" cy="505.9" r="3.3" fill="#93423F"/><circle cx="179.3" cy="515.4" r="3.3" fill="#93423F"/><circle cx="168.9" cy="508.3" r="3.3" fill="#93423F"/><circle cx="173.7" cy="518.6" r="3.3" fill="#93423F"/><circle cx="164.3" cy="510.0" r="3.3" fill="#93423F"/><circle cx="167.9" cy="520.8" r="3.3" fill="#93423F"/><circle cx="159.1" cy="511.7" r="3.3" fill="#93423F"/><circle cx="162.4" cy="522.6" r="3.3" fill="#93423F"/><path d="M104.0,504.0 L103.7,503.2 L103.3,502.2 L102.7,501.0 L102.2,499.7 L101.6,498.2 L101.0,496.7 L100.4,495.1 L99.8,493.4 L99.4,491.7 L99.0,490.0 L98.7,488.3 L98.5,486.5 L98.3,484.7 L98.2,482.8 L98.1,480.9 L98.1,478.9 L98.0,476.8 L98.0,474.6 L98.0,472.4 L98.0,470.0 L98.0,467.4 L97.9,464.6 L97.9,461.6 L97.9,458.5 L97.9,455.4 L97.9,452.3 L98.0,449.3 L98.3,446.6 L98.6,444.1 L99.0,442.0 L99.5,440.2 L100.1,438.7 L100.7,437.4 L101.4,436.3 L102.2,435.4 L103.1,434.6 L104.1,433.8 L105.2,433.2 L106.5,432.6 L108.0,432.0 L109.6,431.5 L111.4,431.1 L113.4,430.9 L115.5,430.8 L117.7,430.7 L120.0,430.6 L122.4,430.6 L124.9,430.5 L127.4,430.3 L130.0,430.0 L132.7,429.6 L135.6,429.2 L138.6,428.8 L141.8,428.3 L144.9,427.8 L148.1,427.3 L151.3,426.7 L154.3,426.2 L157.2,425.6 L160.0,425.0 L162.6,424.4 L165.3,423.7 L167.9,423.0 L170.4,422.2 L172.8,421.5 L175.1,420.8 L177.3,420.0 L179.4,419.3 L181.3,418.6 L183.0,418.0 L184.5,417.3 L185.8,416.4 L187.0,415.3 L188.0,414.3 L188.9,413.4 L189.6,412.6 L190.3,412.1 L190.9,411.9 L191.5,412.2 L192.0,413.0 L192.4,414.3 L192.7,416.1 L193.0,418.3 L193.1,420.9 L193.1,423.7 L193.1,426.7 L193.1,429.9 L193.1,433.3 L193.0,436.6 L193.0,440.0 L193.0,443.6 L193.0,447.5 L193.0,451.7 L192.9,456.0 L192.9,460.4 L192.8,464.8 L192.7,469.1 L192.5,473.1 L192.3,476.8 L192.0,480.0 L191.7,482.8 L191.4,485.4 L191.0,487.7 L190.7,489.8 L190.2,491.8 L189.8,493.5 L189.2,495.2 L188.6,496.8 L187.8,498.4 L187.0,500.0 L186.0,501.6 L185.0,503.0 L183.8,504.4 L182.5,505.7 L181.2,506.9 L179.8,508.0 L178.4,509.1 L176.9,510.1 L175.5,511.1 L174.0,512.0 L172.4,512.9 L170.7,513.7 L168.9,514.4 L167.0,515.1 L165.2,515.8 L163.4,516.3 L161.7,516.8 L160.2,517.3 L159.0,517.7 L158.0,518.0" fill="none" stroke="#93423F" stroke-width="13.5" stroke-linejoin="round" stroke-linecap="round"/><line x1="106.3" y1="500.1" x2="111.4" y2="498.1" stroke="#5A2020" stroke-width="1.1" opacity="0.8"/><line x1="99.7" y1="502.7" x2="94.6" y2="504.7" stroke="#5A2020" stroke-width="1.1" opacity="0.8"/><line x1="104.0" y1="494.9" x2="109.0" y2="492.8" stroke="#5A2020" stroke-width="1.1" opacity="0.8"/><line x1="97.5" y1="497.6" x2="92.4" y2="499.7" stroke="#5A2020" stroke-width="1.1" opacity="0.8"/><line x1="102.4" y1="489.8" x2="107.6" y2="488.2" stroke="#5A2020" stroke-width="1.1" opacity="0.8"/><line x1="95.7" y1="492.0" x2="90.5" y2="493.7" stroke="#5A2020" stroke-width="1.1" opacity="0.8"/><line x1="101.9" y1="484.9" x2="107.3" y2="484.2" stroke="#5A2020" stroke-width="1.1" opacity="0.8"/><line x1="94.9" y1="485.8" x2="89.4" y2="486.4" stroke="#5A2020" stroke-width="1.1" opacity="0.8"/><line x1="101.6" y1="479.6" x2="107.1" y2="479.3" stroke="#5A2020" stroke-width="1.1" opacity="0.8"/><line x1="94.6" y1="479.9" x2="89.1" y2="480.2" stroke="#5A2020" stroke-width="1.1" opacity="0.8"/><line x1="101.5" y1="474.1" x2="107.0" y2="474.0" stroke="#5A2020" stroke-width="1.1" opacity="0.8"/><line x1="94.5" y1="474.2" x2="89.0" y2="474.3" stroke="#5A2020" stroke-width="1.1" opacity="0.8"/><line x1="101.5" y1="468.5" x2="107.0" y2="468.5" stroke="#5A2020" stroke-width="1.1" opacity="0.8"/><line x1="94.5" y1="468.6" x2="89.0" y2="468.6" stroke="#5A2020" stroke-width="1.1" opacity="0.8"/><line x1="101.4" y1="462.9" x2="106.9" y2="462.8" stroke="#5A2020" stroke-width="1.1" opacity="0.8"/><line x1="94.4" y1="463.0" x2="88.9" y2="463.1" stroke="#5A2020" stroke-width="1.1" opacity="0.8"/><line x1="101.4" y1="457.3" x2="106.9" y2="457.3" stroke="#5A2020" stroke-width="1.1" opacity="0.8"/><line x1="94.3" y1="457.4" x2="88.9" y2="457.4" stroke="#5A2020" stroke-width="1.1" opacity="0.8"/><line x1="101.5" y1="451.8" x2="106.9" y2="451.9" stroke="#5A2020" stroke-width="1.1" opacity="0.8"/><line x1="94.4" y1="451.7" x2="88.9" y2="451.6" stroke="#5A2020" stroke-width="1.1" opacity="0.8"/><line x1="101.8" y1="446.4" x2="107.3" y2="446.8" stroke="#5A2020" stroke-width="1.1" opacity="0.8"/><line x1="94.8" y1="445.9" x2="89.3" y2="445.5" stroke="#5A2020" stroke-width="1.1" opacity="0.8"/><line x1="102.7" y1="441.4" x2="108.1" y2="442.5" stroke="#5A2020" stroke-width="1.1" opacity="0.8"/><line x1="95.8" y1="439.9" x2="90.5" y2="438.8" stroke="#5A2020" stroke-width="1.1" opacity="0.8"/><line x1="104.8" y1="437.1" x2="109.7" y2="439.4" stroke="#5A2020" stroke-width="1.1" opacity="0.8"/><line x1="98.4" y1="434.0" x2="93.5" y2="431.6" stroke="#5A2020" stroke-width="1.1" opacity="0.8"/><line x1="108.3" y1="435.2" x2="111.5" y2="439.6" stroke="#5A2020" stroke-width="1.1" opacity="0.8"/><line x1="104.3" y1="429.4" x2="101.1" y2="424.9" stroke="#5A2020" stroke-width="1.1" opacity="0.8"/><line x1="112.8" y1="434.2" x2="114.5" y2="439.4" stroke="#5A2020" stroke-width="1.1" opacity="0.8"/><line x1="110.7" y1="427.5" x2="109.1" y2="422.2" stroke="#5A2020" stroke-width="1.1" opacity="0.8"/><line x1="117.7" y1="434.2" x2="118.0" y2="439.6" stroke="#5A2020" stroke-width="1.1" opacity="0.8"/><line x1="117.2" y1="427.1" x2="116.8" y2="421.7" stroke="#5A2020" stroke-width="1.1" opacity="0.8"/><line x1="123.1" y1="434.1" x2="123.3" y2="439.5" stroke="#5A2020" stroke-width="1.1" opacity="0.8"/><line x1="122.9" y1="427.0" x2="122.8" y2="421.6" stroke="#5A2020" stroke-width="1.1" opacity="0.8"/><line x1="128.9" y1="433.7" x2="129.3" y2="439.2" stroke="#5A2020" stroke-width="1.1" opacity="0.8"/><line x1="128.4" y1="426.7" x2="128.0" y2="421.2" stroke="#5A2020" stroke-width="1.1" opacity="0.8"/><line x1="134.7" y1="432.9" x2="135.4" y2="438.3" stroke="#5A2020" stroke-width="1.1" opacity="0.8"/><line x1="133.7" y1="425.9" x2="133.0" y2="420.5" stroke="#5A2020" stroke-width="1.1" opacity="0.8"/><line x1="140.2" y1="432.1" x2="141.0" y2="437.5" stroke="#5A2020" stroke-width="1.1" opacity="0.8"/><line x1="139.2" y1="425.1" x2="138.4" y2="419.7" stroke="#5A2020" stroke-width="1.1" opacity="0.8"/><line x1="145.8" y1="431.2" x2="146.6" y2="436.7" stroke="#5A2020" stroke-width="1.1" opacity="0.8"/><line x1="144.7" y1="424.3" x2="143.9" y2="418.9" stroke="#5A2020" stroke-width="1.1" opacity="0.8"/><line x1="151.3" y1="430.3" x2="152.2" y2="435.7" stroke="#5A2020" stroke-width="1.1" opacity="0.8"/><line x1="150.2" y1="423.4" x2="149.3" y2="418.0" stroke="#5A2020" stroke-width="1.1" opacity="0.8"/><line x1="156.9" y1="429.3" x2="157.9" y2="434.7" stroke="#5A2020" stroke-width="1.1" opacity="0.8"/><line x1="155.6" y1="422.4" x2="154.6" y2="417.0" stroke="#5A2020" stroke-width="1.1" opacity="0.8"/><line x1="162.5" y1="428.1" x2="163.7" y2="433.4" stroke="#5A2020" stroke-width="1.1" opacity="0.8"/><line x1="161.0" y1="421.2" x2="159.9" y2="415.8" stroke="#5A2020" stroke-width="1.1" opacity="0.8"/><line x1="168.0" y1="426.6" x2="169.4" y2="431.9" stroke="#5A2020" stroke-width="1.1" opacity="0.8"/><line x1="166.3" y1="419.8" x2="164.9" y2="414.5" stroke="#5A2020" stroke-width="1.1" opacity="0.8"/><line x1="173.5" y1="425.0" x2="175.1" y2="430.3" stroke="#5A2020" stroke-width="1.1" opacity="0.8"/><line x1="171.6" y1="418.2" x2="170.0" y2="413.0" stroke="#5A2020" stroke-width="1.1" opacity="0.8"/><line x1="179.0" y1="423.2" x2="180.7" y2="428.4" stroke="#5A2020" stroke-width="1.1" opacity="0.8"/><line x1="176.7" y1="416.5" x2="175.0" y2="411.3" stroke="#5A2020" stroke-width="1.1" opacity="0.8"/><line x1="184.3" y1="421.3" x2="186.2" y2="426.4" stroke="#5A2020" stroke-width="1.1" opacity="0.8"/><line x1="181.9" y1="414.7" x2="180.1" y2="409.5" stroke="#5A2020" stroke-width="1.1" opacity="0.8"/><line x1="189.8" y1="417.9" x2="193.0" y2="422.4" stroke="#5A2020" stroke-width="1.1" opacity="0.8"/><line x1="185.8" y1="412.1" x2="182.7" y2="407.6" stroke="#5A2020" stroke-width="1.1" opacity="0.8"/><line x1="194.0" y1="413.2" x2="197.9" y2="417.1" stroke="#5A2020" stroke-width="1.1" opacity="0.8"/><line x1="189.1" y1="408.2" x2="185.2" y2="404.3" stroke="#5A2020" stroke-width="1.1" opacity="0.8"/><line x1="189.6" y1="418.7" x2="184.2" y2="419.6" stroke="#5A2020" stroke-width="1.1" opacity="0.8"/><line x1="196.6" y1="417.5" x2="202.0" y2="416.6" stroke="#5A2020" stroke-width="1.1" opacity="0.8"/><line x1="189.6" y1="423.8" x2="184.1" y2="423.9" stroke="#5A2020" stroke-width="1.1" opacity="0.8"/><line x1="196.6" y1="423.7" x2="202.1" y2="423.6" stroke="#5A2020" stroke-width="1.1" opacity="0.8"/><line x1="189.6" y1="429.3" x2="184.1" y2="429.3" stroke="#5A2020" stroke-width="1.1" opacity="0.8"/><line x1="196.7" y1="429.3" x2="202.1" y2="429.3" stroke="#5A2020" stroke-width="1.1" opacity="0.8"/><line x1="189.5" y1="434.9" x2="184.0" y2="434.8" stroke="#5A2020" stroke-width="1.1" opacity="0.8"/><line x1="196.6" y1="435.0" x2="202.0" y2="435.0" stroke="#5A2020" stroke-width="1.1" opacity="0.8"/><line x1="189.5" y1="440.5" x2="184.0" y2="440.5" stroke="#5A2020" stroke-width="1.1" opacity="0.8"/><line x1="196.5" y1="440.5" x2="202.0" y2="440.6" stroke="#5A2020" stroke-width="1.1" opacity="0.8"/><line x1="189.5" y1="446.1" x2="184.0" y2="446.1" stroke="#5A2020" stroke-width="1.1" opacity="0.8"/><line x1="196.5" y1="446.1" x2="202.0" y2="446.1" stroke="#5A2020" stroke-width="1.1" opacity="0.8"/><line x1="189.5" y1="451.7" x2="184.0" y2="451.7" stroke="#5A2020" stroke-width="1.1" opacity="0.8"/><line x1="196.5" y1="451.7" x2="202.0" y2="451.8" stroke="#5A2020" stroke-width="1.1" opacity="0.8"/><line x1="189.4" y1="457.3" x2="183.9" y2="457.3" stroke="#5A2020" stroke-width="1.1" opacity="0.8"/><line x1="196.4" y1="457.4" x2="201.9" y2="457.4" stroke="#5A2020" stroke-width="1.1" opacity="0.8"/><line x1="189.3" y1="462.9" x2="183.8" y2="462.8" stroke="#5A2020" stroke-width="1.1" opacity="0.8"/><line x1="196.4" y1="463.0" x2="201.8" y2="463.1" stroke="#5A2020" stroke-width="1.1" opacity="0.8"/><line x1="189.2" y1="468.4" x2="183.7" y2="468.3" stroke="#5A2020" stroke-width="1.1" opacity="0.8"/><line x1="196.2" y1="468.6" x2="201.7" y2="468.8" stroke="#5A2020" stroke-width="1.1" opacity="0.8"/><line x1="188.9" y1="474.0" x2="183.5" y2="473.7" stroke="#5A2020" stroke-width="1.1" opacity="0.8"/><line x1="196.0" y1="474.3" x2="201.4" y2="474.5" stroke="#5A2020" stroke-width="1.1" opacity="0.8"/><line x1="188.5" y1="479.4" x2="183.1" y2="479.0" stroke="#5A2020" stroke-width="1.1" opacity="0.8"/><line x1="195.5" y1="480.0" x2="201.0" y2="480.5" stroke="#5A2020" stroke-width="1.1" opacity="0.8"/><line x1="187.9" y1="484.9" x2="182.5" y2="484.3" stroke="#5A2020" stroke-width="1.1" opacity="0.8"/><line x1="194.9" y1="485.6" x2="200.4" y2="486.2" stroke="#5A2020" stroke-width="1.1" opacity="0.8"/><line x1="187.0" y1="490.2" x2="181.6" y2="489.2" stroke="#5A2020" stroke-width="1.1" opacity="0.8"/><line x1="194.0" y1="491.4" x2="199.4" y2="492.4" stroke="#5A2020" stroke-width="1.1" opacity="0.8"/><line x1="185.6" y1="495.3" x2="180.4" y2="493.9" stroke="#5A2020" stroke-width="1.1" opacity="0.8"/><line x1="192.4" y1="497.1" x2="197.7" y2="498.6" stroke="#5A2020" stroke-width="1.1" opacity="0.8"/><line x1="183.3" y1="499.5" x2="178.4" y2="496.9" stroke="#5A2020" stroke-width="1.1" opacity="0.8"/><line x1="189.5" y1="502.8" x2="194.3" y2="505.4" stroke="#5A2020" stroke-width="1.1" opacity="0.8"/><line x1="180.2" y1="503.2" x2="176.0" y2="499.6" stroke="#5A2020" stroke-width="1.1" opacity="0.8"/><line x1="185.5" y1="507.8" x2="189.6" y2="511.4" stroke="#5A2020" stroke-width="1.1" opacity="0.8"/><line x1="176.3" y1="506.4" x2="172.8" y2="502.1" stroke="#5A2020" stroke-width="1.1" opacity="0.8"/><line x1="180.7" y1="511.8" x2="184.2" y2="516.0" stroke="#5A2020" stroke-width="1.1" opacity="0.8"/><line x1="171.9" y1="509.2" x2="168.9" y2="504.7" stroke="#5A2020" stroke-width="1.1" opacity="0.8"/><line x1="175.8" y1="515.1" x2="178.8" y2="519.7" stroke="#5A2020" stroke-width="1.1" opacity="0.8"/><line x1="167.3" y1="511.4" x2="164.9" y2="506.5" stroke="#5A2020" stroke-width="1.1" opacity="0.8"/><line x1="170.3" y1="517.8" x2="172.6" y2="522.7" stroke="#5A2020" stroke-width="1.1" opacity="0.8"/><line x1="162.3" y1="513.0" x2="160.6" y2="507.8" stroke="#5A2020" stroke-width="1.1" opacity="0.8"/><line x1="164.6" y1="519.7" x2="166.3" y2="524.9" stroke="#5A2020" stroke-width="1.1" opacity="0.8"/><line x1="157.1" y1="514.6" x2="155.5" y2="509.3" stroke="#5A2020" stroke-width="1.1" opacity="0.8"/><line x1="159.1" y1="521.3" x2="160.7" y2="526.5" stroke="#5A2020" stroke-width="1.1" opacity="0.8"/><path d="M140,510 L158,510 L157,526 L141,526 Z" fill="#A04848" opacity="0.9"/><path d="M167,368 C175,366 190,364 196,370 C199,385 198,400 188,408 C175,418 155,420 135,422 C126,422 123,414 127,409 C132,402 150,405 162,399 C170,393 168,380 166,366 Z" fill="#BC584B" stroke="#6E2A26" stroke-width="1.6"/><path d="M135,416 C140,411 150,410 166,409 L160,415 C150,416 142,417 135,416 Z" fill="#DDE6EE" opacity="0.9"/></g><g mask="url(#mGlu)"><path d="M575,360 L783,360 C786,420 792,470 797,530 L558,530 C564,470 571,420 575,360 Z" fill="#BBD5EC"/><path d="M610.7,435 C606,448 603,470 600.5,513 L600,530 L616,530 C618,500 620,478 619,462 C617.5,450 614,442 610.7,435 Z" fill="#fff"/><path d="M745.5,435 C750,448 753,470 756,513 L757,530 L741,530 C739,500 736,478 737,462 C738.5,450 742,442 745.5,435 Z" fill="#fff"/><path d="M588,362 C586,400 584,425 584,440 C583,448 587,452 594,452 C601,452 604,447 603,440 C603,420 605,395 610,362 Z" fill="#CAD3DB" stroke="#A9B0B6" stroke-width="1.7"/><path d="M584,452 C578,480 572,505 568,530 L586,530 C590,505 596,480 600,452 Z" fill="#CAD3DB" stroke="#A9B0B6" stroke-width="1.7"/><path d="M592,458 C586,485 580,505 577,530" fill="none" stroke="#A9B0B6" stroke-width="1.5"/><path d="M770,362 C772,400 774,425 774,440 C775,448 771,452 764,452 C757,452 754,447 755,440 C755,420 753,395 748,362 Z" fill="#CAD3DB" stroke="#A9B0B6" stroke-width="1.7"/><path d="M774,452 C780,480 786,505 790,530 L772,530 C768,505 762,480 758,452 Z" fill="#CAD3DB" stroke="#A9B0B6" stroke-width="1.7"/><path d="M766,458 C772,485 778,505 781,530" fill="none" stroke="#A9B0B6" stroke-width="1.5"/><path d="M637,437 C629,440 627,447 630,454 C637,464 648,464 674,453" fill="none" stroke="#A9B0B6" stroke-width="8.5" stroke-linecap="round" stroke-linejoin="round"/><path d="M637,437 C629,440 627,447 630,454 C637,464 648,464 674,453" fill="none" stroke="#CAD3DB" stroke-width="5.1" stroke-linecap="round" stroke-linejoin="round"/><path d="M721,437 C729,440 731,447 728,454 C721,464 710,464 684,453" fill="none" stroke="#A9B0B6" stroke-width="8.5" stroke-linecap="round" stroke-linejoin="round"/><path d="M721,437 C729,440 731,447 728,454 C721,464 710,464 684,453" fill="none" stroke="#CAD3DB" stroke-width="5.1" stroke-linecap="round" stroke-linejoin="round"/><path d="M632,423 C624,426 622,433 625,440 C632,450 648,450 674,439" fill="none" stroke="#A9B0B6" stroke-width="8.5" stroke-linecap="round" stroke-linejoin="round"/><path d="M632,423 C624,426 622,433 625,440 C632,450 648,450 674,439" fill="none" stroke="#CAD3DB" stroke-width="5.1" stroke-linecap="round" stroke-linejoin="round"/><path d="M726,423 C734,426 736,433 733,440 C726,450 710,450 684,439" fill="none" stroke="#A9B0B6" stroke-width="8.5" stroke-linecap="round" stroke-linejoin="round"/><path d="M726,423 C734,426 736,433 733,440 C726,450 710,450 684,439" fill="none" stroke="#CAD3DB" stroke-width="5.1" stroke-linecap="round" stroke-linejoin="round"/><path d="M628,409 C620,412 618,419 621,426 C628,436 648,436 674,425" fill="none" stroke="#A9B0B6" stroke-width="8.5" stroke-linecap="round" stroke-linejoin="round"/><path d="M628,409 C620,412 618,419 621,426 C628,436 648,436 674,425" fill="none" stroke="#CAD3DB" stroke-width="5.1" stroke-linecap="round" stroke-linejoin="round"/><path d="M730,409 C738,412 740,419 737,426 C730,436 710,436 684,425" fill="none" stroke="#A9B0B6" stroke-width="8.5" stroke-linecap="round" stroke-linejoin="round"/><path d="M730,409 C738,412 740,419 737,426 C730,436 710,436 684,425" fill="none" stroke="#CAD3DB" stroke-width="5.1" stroke-linecap="round" stroke-linejoin="round"/><path d="M625,395 C617,398 615,405 618,412 C625,422 648,422 674,411" fill="none" stroke="#A9B0B6" stroke-width="8.5" stroke-linecap="round" stroke-linejoin="round"/><path d="M625,395 C617,398 615,405 618,412 C625,422 648,422 674,411" fill="none" stroke="#CAD3DB" stroke-width="5.1" stroke-linecap="round" stroke-linejoin="round"/><path d="M733,395 C741,398 743,405 740,412 C733,422 710,422 684,411" fill="none" stroke="#A9B0B6" stroke-width="8.5" stroke-linecap="round" stroke-linejoin="round"/><path d="M733,395 C741,398 743,405 740,412 C733,422 710,422 684,411" fill="none" stroke="#CAD3DB" stroke-width="5.1" stroke-linecap="round" stroke-linejoin="round"/><path d="M623,381 C615,384 613,391 616,398 C623,408 648,408 674,397" fill="none" stroke="#A9B0B6" stroke-width="8.5" stroke-linecap="round" stroke-linejoin="round"/><path d="M623,381 C615,384 613,391 616,398 C623,408 648,408 674,397" fill="none" stroke="#CAD3DB" stroke-width="5.1" stroke-linecap="round" stroke-linejoin="round"/><path d="M735,381 C743,384 745,391 742,398 C735,408 710,408 684,397" fill="none" stroke="#A9B0B6" stroke-width="8.5" stroke-linecap="round" stroke-linejoin="round"/><path d="M735,381 C743,384 745,391 742,398 C735,408 710,408 684,397" fill="none" stroke="#CAD3DB" stroke-width="5.1" stroke-linecap="round" stroke-linejoin="round"/><path d="M622,367 C614,370 612,377 615,384 C622,394 648,394 674,383" fill="none" stroke="#A9B0B6" stroke-width="8.5" stroke-linecap="round" stroke-linejoin="round"/><path d="M622,367 C614,370 612,377 615,384 C622,394 648,394 674,383" fill="none" stroke="#CAD3DB" stroke-width="5.1" stroke-linecap="round" stroke-linejoin="round"/><path d="M736,367 C744,370 746,377 743,384 C736,394 710,394 684,383" fill="none" stroke="#A9B0B6" stroke-width="8.5" stroke-linecap="round" stroke-linejoin="round"/><path d="M736,367 C744,370 746,377 743,384 C736,394 710,394 684,383" fill="none" stroke="#CAD3DB" stroke-width="5.1" stroke-linecap="round" stroke-linejoin="round"/><path d="M623,353 C615,356 613,363 616,370 C623,380 648,380 674,369" fill="none" stroke="#A9B0B6" stroke-width="8.5" stroke-linecap="round" stroke-linejoin="round"/><path d="M623,353 C615,356 613,363 616,370 C623,380 648,380 674,369" fill="none" stroke="#CAD3DB" stroke-width="5.1" stroke-linecap="round" stroke-linejoin="round"/><path d="M735,353 C743,356 745,363 742,370 C735,380 710,380 684,369" fill="none" stroke="#A9B0B6" stroke-width="8.5" stroke-linecap="round" stroke-linejoin="round"/><path d="M735,353 C743,356 745,363 742,370 C735,380 710,380 684,369" fill="none" stroke="#CAD3DB" stroke-width="5.1" stroke-linecap="round" stroke-linejoin="round"/><rect x="675.5" y="360" width="7" height="72" fill="#D6E2DE" stroke="#B8C0C4" stroke-width="1"/><path d="M642,478 C652,468 700,466 716,474 C724,484 722,500 714,510 L648,512 C638,502 636,488 642,478 Z" fill="#C6D0D9" stroke="#A9B0B6" stroke-width="1.5" opacity="0.75"/><path d="M650,488 C660,482 672,492 684,486 C694,480 704,490 712,484" fill="none" stroke="#A9B0B6" stroke-width="1.5" opacity="0.8"/><path d="M648,500 C658,494 670,504 682,498 C692,492 702,502 714,496" fill="none" stroke="#A9B0B6" stroke-width="1.5" opacity="0.8"/><path d="M700,456 C712,452 722,458 726,470 C728,480 724,490 718,494" fill="none" stroke="#A9B0B6" stroke-width="1.5" opacity="0.8"/><path d="M660,458 C668,452 684,452 694,458" fill="none" stroke="#A9B0B6" stroke-width="1.5" opacity="0.8"/><path d="M620,495 C630,485 650,490 655,505 L655,530 L618,530 Z" fill="#CAD3DB" stroke="#A9B0B6" stroke-width="1.6" opacity="0.8"/><path d="M738,495 C728,485 708,490 703,505 L703,530 L740,530 Z" fill="#CAD3DB" stroke="#A9B0B6" stroke-width="1.6" opacity="0.8"/><path d="M700,442 C712,440 720,446 716,456 C710,462 700,458 698,450 Z" fill="#CAD3DB" stroke="#A9B0B6" stroke-width="1.4" opacity="0.8"/><path d="M638.5,441.6 C646,437 652,434 660,432.8 L692.5,428.1 L698.5,430.8 L706,445 L697,453 C692,460 687,466 681.7,469 C676,470 673,471 670,472 C663,474 657,477 652,480 C646,484 640,489 635.8,493.5 C632,496 630,490 630.4,480.7 C630,470 630,460 631,453.7 C632,448 635,444 638.5,441.6 Z" fill="#7F2A33"/><path d="M638.5,441.6 C646,437 652,434 660,432.8 L692.5,428.1 L698.5,430.8 L700.6,436.2 C696,441 692,446 688,450 C684,455 681,459 677.6,461.2 C670,462 664,463 658.7,464.5 C650,468 644,472 638.5,476.7 C635,479 633,482 631.5,485 C630,470 630,460 631,453.7 C632,448 635,444 638.5,441.6 Z" fill="#B04452"/></g>
<!-- center box -->
<g filter="url(#sh2)">
<rect x="264" y="259" width="318.6" height="70.6" rx="1" fill="#fff"/>
</g>
<rect x="267.3" y="262.3" width="311.7" height="63" fill="#4AAAC5"/>
<!-- arrows -->
<linearGradient id="g1" gradientUnits="userSpaceOnUse" x1="300" y1="221" x2="336" y2="256"><stop offset="0" stop-color="#39B3D9"/><stop offset="1" stop-color="#2A88A4"/></linearGradient>
<linearGradient id="g2" gradientUnits="userSpaceOnUse" x1="536" y1="221" x2="501" y2="256"><stop offset="0" stop-color="#39B3D9"/><stop offset="1" stop-color="#2A88A4"/></linearGradient>
<linearGradient id="g3" gradientUnits="userSpaceOnUse" x1="301" y1="373" x2="336" y2="339"><stop offset="0" stop-color="#39B3D9"/><stop offset="1" stop-color="#2A88A4"/></linearGradient>
<linearGradient id="g4" gradientUnits="userSpaceOnUse" x1="542" y1="373" x2="508" y2="339"><stop offset="0" stop-color="#39B3D9"/><stop offset="1" stop-color="#2A88A4"/></linearGradient>
<g filter="url(#sh)">
<path d="M297.1,217.7 L318.9,217.7 L314.2,224.2 L340.8,250.7 L329.6,260.8 L303,234.8 L297.1,240.1 Z" fill="url(#g1)"/>
<path d="M539.6,217.7 L517.8,217.7 L522.5,223.6 L496.5,250.8 L507.5,260.8 L534.3,234.8 L539.6,239.5 Z" fill="url(#g2)"/>
<path d="M297.9,376.6 L320.7,376.6 L316,371 L341.6,344.5 L330.7,333.2 L304.2,359.5 L297.9,354.2 Z" fill="url(#g3)"/>
<path d="M545.8,376.7 L523.9,376.7 L528.4,371.4 L502.2,344.4 L513.6,333.2 L540.5,359.5 L545.8,354.5 Z" fill="url(#g4)"/>
</g>
</svg>
<div class="t" style="left:87.3px;top:177.3px;letter-spacing:1.24px">Reducing</div>
<div class="t" style="left:27px;top:205.3px;letter-spacing:0.64px">cardiovascular disease</div>
<div class="t" style="left:574.5px;top:199.5px;letter-spacing:1.27px">Enhancing immunity</div>
<div class="b" style="left:275.7px;top:270.4px;letter-spacing:0.77px">Anti-inflammatory effects  of</div>
<div class="b" style="left:362.2px;top:297px;letter-spacing:0.87px">donkey milk</div>
<div class="t" style="left:25.5px;top:532.3px;letter-spacing:1.2px">Reducing inflammatory</div>
<div class="t" style="left:77.7px;top:561px;letter-spacing:0.88px">bowel disease</div>
<div class="t" style="left:540.8px;top:532.8px;letter-spacing:0.9px">Improving glucose disposal</div>
<div class="t" style="left:568.1px;top:560.7px;letter-spacing:0.84px">and insulin resistance</div>
<svg width="814" height="593" viewBox="0 0 814 593" style="position:absolute;left:0;top:0"><defs><mask id="wmk" maskUnits="userSpaceOnUse" x="580" y="420" width="180" height="160"><circle cx="665" cy="502" r="63" fill="#fff"/><path d="M659,528.5 L760,528.5 L760,600 L659,600 Z" fill="#000"/><path d="M631,486 C634,481 636,479 638.5,476.7 C644,472 650,468 658.7,464.5 C664,463 670,462 677.6,461.2 L692,446 L698,450 L683,469 C676,470 673,471 670,472 C663,474 657,477 652,480 C646,484 640,489 635.8,493.5 C633,495 630,494 631,486 Z" fill="#000"/><path d="M700,486 L717.8,484.3 L722,528 L694,528 Z" fill="#000" opacity="0.6"/></mask><clipPath id="wmInner"><circle cx="669" cy="502" r="55"/></clipPath></defs><rect x="580" y="420" width="180" height="160" fill="#fff" opacity="0.55" mask="url(#wmk)"/><circle cx="665" cy="502" r="63" fill="none" stroke="#D8DCE0" stroke-width="0.8" opacity="0.7"/><path d="M617,528 A51,51 0 0,0 713,528" fill="none" stroke="#DDE0E4" stroke-width="0.7" opacity="0.6"/><path d="M689.4,451.2 L641,528" stroke="#C8CDD2" stroke-width="3.4" opacity="0.6"/><path d="M689.4,451.2 L641,528" stroke="#F4F6F8" stroke-width="2" opacity="0.9"/><path d="M696.5,451.2 L650.5,528" stroke="#C8CDD2" stroke-width="3.4" opacity="0.6"/><path d="M696.5,451.2 L650.5,528" stroke="#F4F6F8" stroke-width="2" opacity="0.9"/><path d="M717.8,484.3 L723.7,528 L659,528" fill="none" stroke="#C8CDD2" stroke-width="3.2" opacity="0.6"/><path d="M717.8,484.3 L723.7,528 L659,528" fill="none" stroke="#F4F6F8" stroke-width="1.8" opacity="0.9"/></svg>
</body></html>
